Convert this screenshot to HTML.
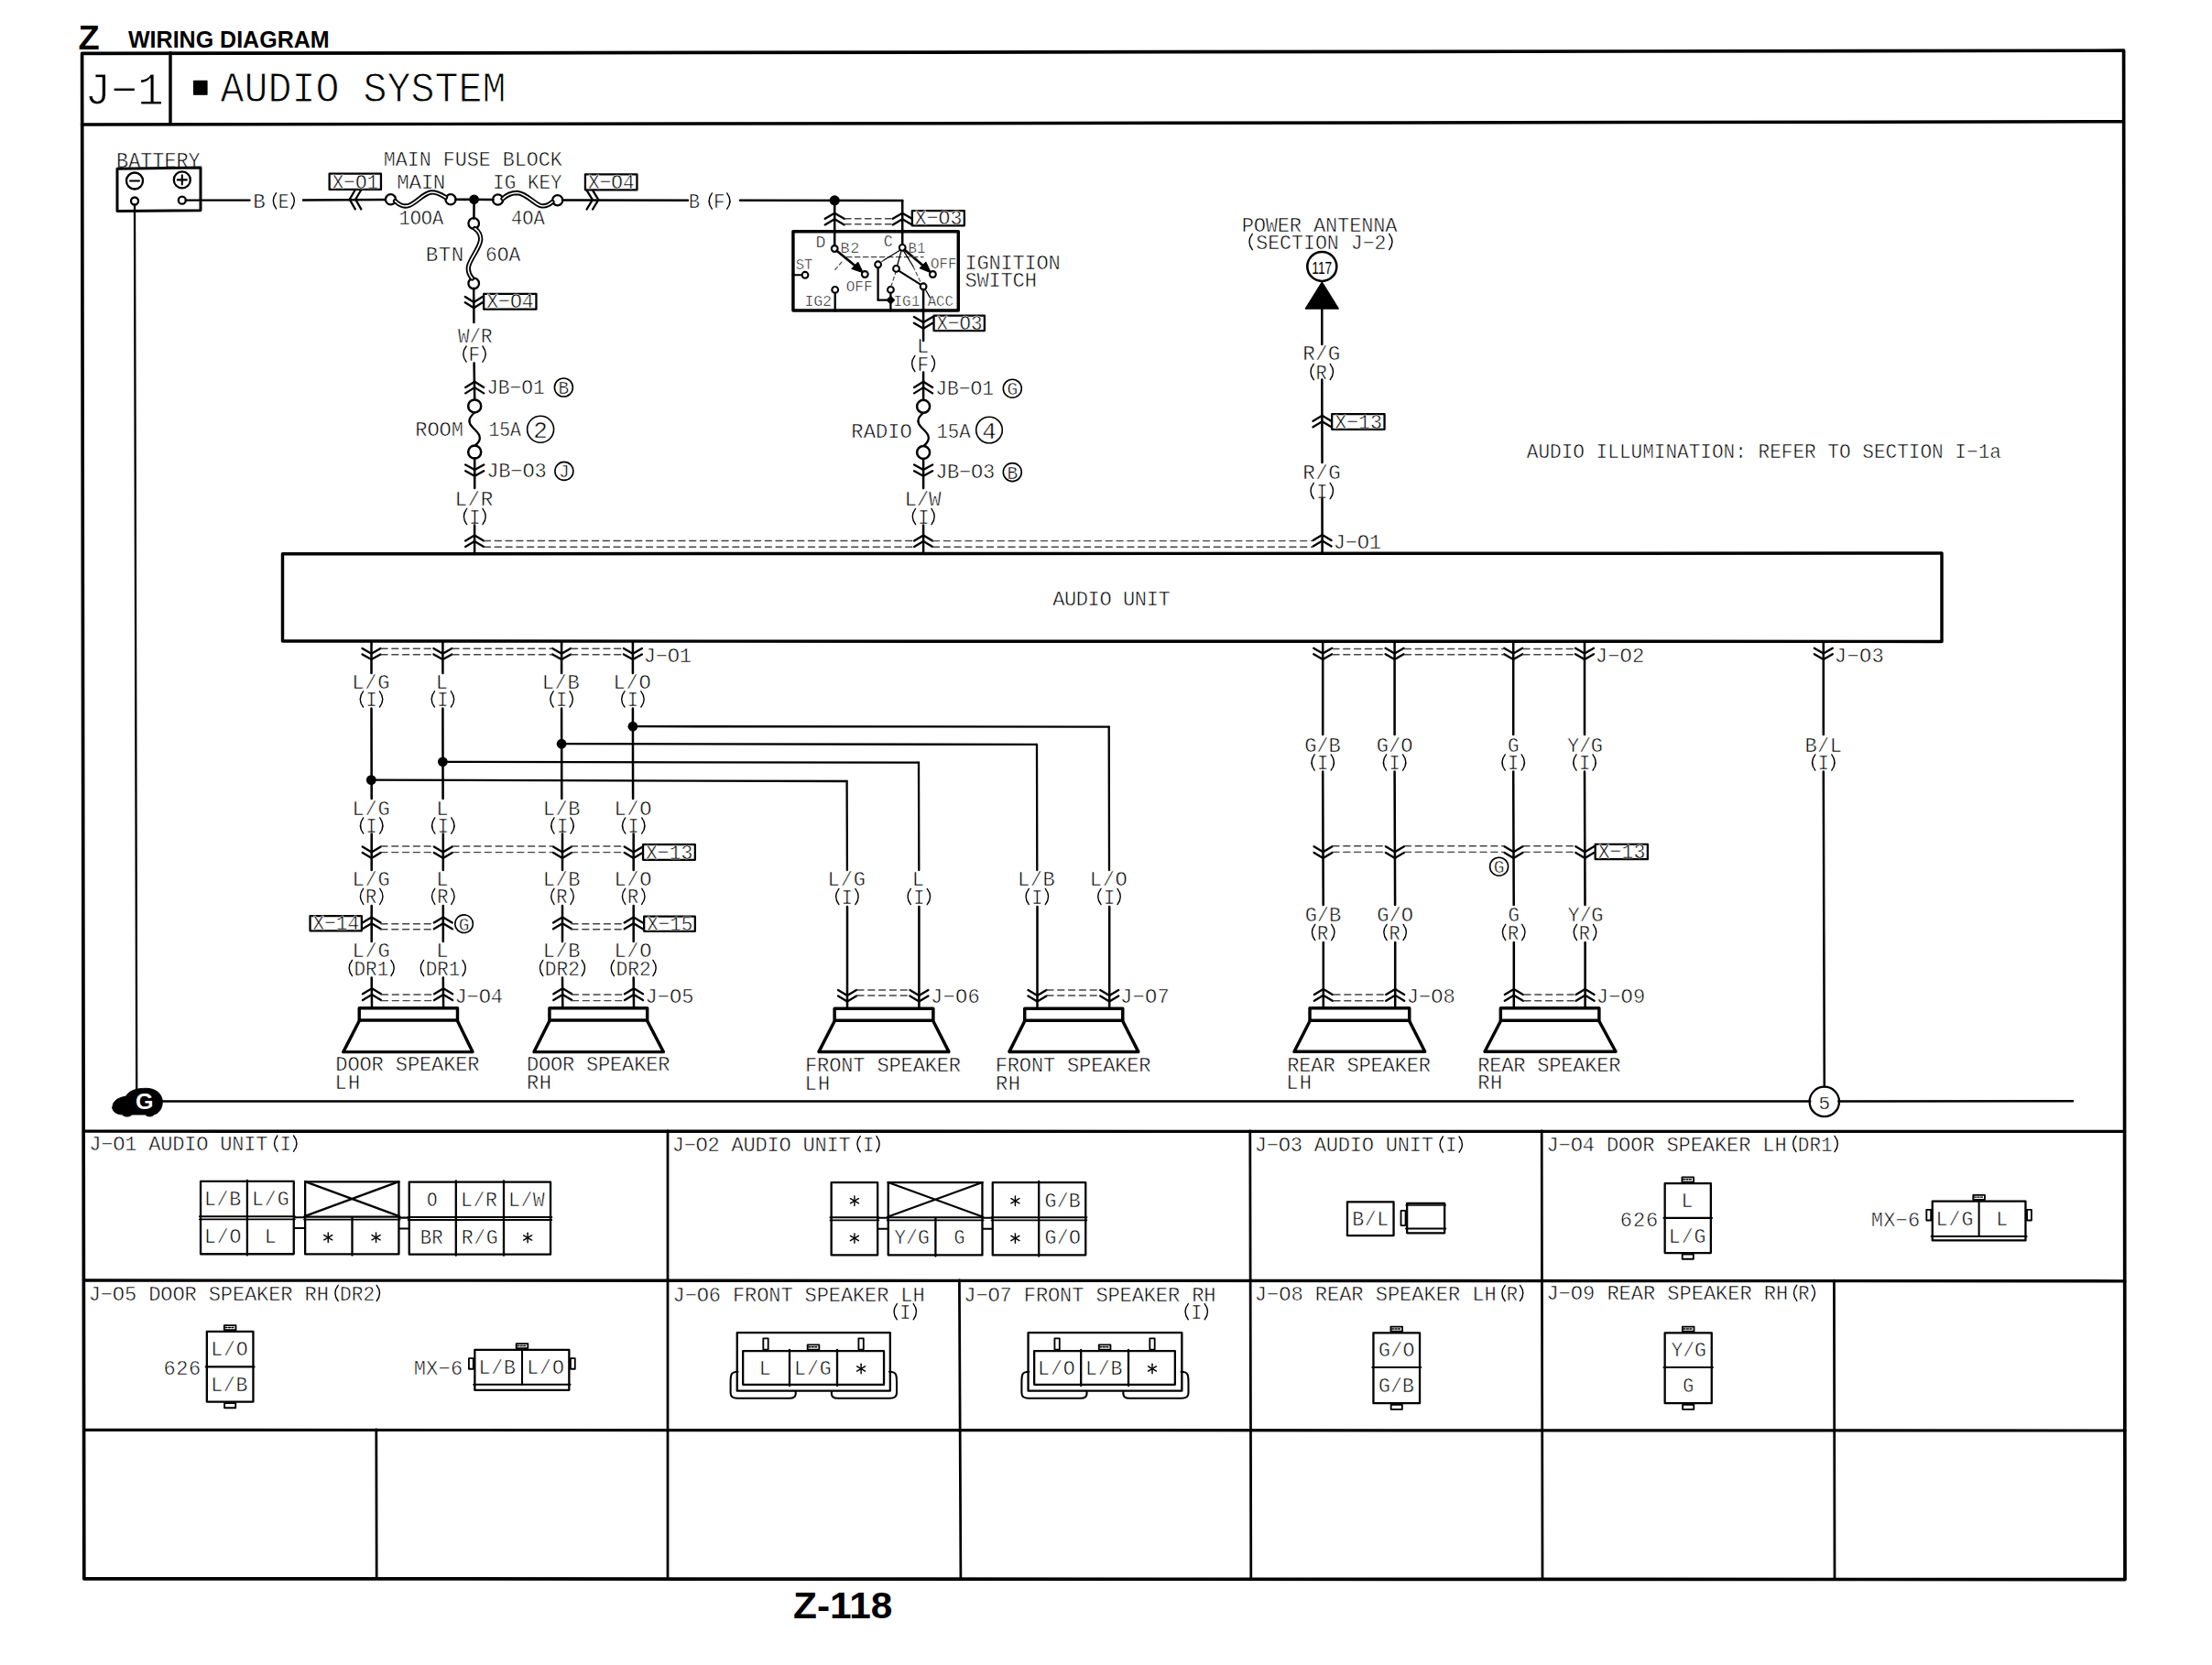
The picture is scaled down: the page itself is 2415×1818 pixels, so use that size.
<!DOCTYPE html>
<html><head><meta charset="utf-8"><style>
html,body{margin:0;padding:0;background:#fff;width:2415px;height:1818px;overflow:hidden}
svg{display:block}
</style></head><body>
<svg width="2415" height="1818" viewBox="0 0 2415 1818">
<rect x="0" y="0" width="2415" height="1818" fill="#fff"/>
<g stroke="#000" fill="none" stroke-linecap="round" stroke-linejoin="round" fill-opacity="1">
<text x="85.49" y="53.5" font-size="36.5" font-family='"Liberation Sans", sans-serif' font-weight="bold" fill="#000" stroke="none" textLength="23.16" lengthAdjust="spacingAndGlyphs">Z</text>
<text x="140" y="52.4" font-size="26.5" font-family='"Liberation Sans", sans-serif' font-weight="bold" fill="#000" stroke="none" textLength="219.64" lengthAdjust="spacingAndGlyphs">WIRING DIAGRAM</text>
<path d="M89.6,58.4 L2318.6,55.2 L2320,1724.6 L91.8,1723.8 Z" stroke-width="3.68" fill="none"/>
<line x1="89.4" y1="136" x2="2318.4" y2="132.8" stroke-width="3.45"/>
<line x1="186" y1="57.5" x2="186" y2="135.5" stroke-width="3.45"/>
<text x="92.39" y="114.1" font-size="49.5" font-family='"Liberation Mono", monospace' fill="#000" stroke="#fff" stroke-width="1.1" textLength="86.45" lengthAdjust="spacingAndGlyphs">J−1</text>
<rect x="211.57" y="88.38" width="14.45" height="14.85" stroke-width="1.15" fill="#000"/>
<text x="240.5" y="110.8" font-size="46.5" font-family='"Liberation Mono", monospace' fill="#000" stroke="#fff" stroke-width="1" textLength="312.03" lengthAdjust="spacingAndGlyphs">AUDIO SYSTEM</text>
<text x="127.07" y="182.5" font-size="23.1" font-family='"Liberation Mono", monospace' fill="#000" stroke="#fff" stroke-width="0.55" textLength="91.59" lengthAdjust="spacingAndGlyphs">BATTERY</text>
<path d="M128,184.2 L219,183 L219,229.8 L128,230.6 Z" stroke-width="2.99" fill="none"/>
<circle cx="147" cy="197.5" r="9" stroke-width="2.3" fill="none"/>
<line x1="142" y1="197.5" x2="152" y2="197.5" stroke-width="2.07"/>
<circle cx="198.8" cy="196.4" r="9" stroke-width="2.3" fill="none"/>
<line x1="193.8" y1="196.4" x2="203.8" y2="196.4" stroke-width="2.07"/>
<line x1="198.8" y1="191.4" x2="198.8" y2="201.4" stroke-width="2.07"/>
<circle cx="147" cy="219.5" r="4" stroke-width="2.3" fill="none"/>
<circle cx="198.8" cy="218.7" r="4" stroke-width="2.3" fill="none"/>
<line x1="147" y1="223.5" x2="149.2" y2="1190" stroke-width="2.3"/>
<line x1="202.8" y1="218.7" x2="272.6" y2="218.7" stroke-width="2.3"/>
<text x="276.31" y="226.8" font-size="22.57" font-family='"Liberation Mono", monospace' fill="#000" stroke="#fff" stroke-width="0.55" textLength="13.29" lengthAdjust="spacing">B</text>
<path d="M301.6,210.7 Q295,219.3 301.6,227.9" stroke-width="1.38" fill="none"/>
<path d="M318.1,210.7 Q324.7,219.3 318.1,227.9" stroke-width="1.38" fill="none"/>
<text x="303.7" y="226.8" font-size="22.05" font-family='"Liberation Mono", monospace' fill="#000" stroke="#fff" stroke-width="0.55" textLength="11.76" lengthAdjust="spacingAndGlyphs">E</text>
<line x1="331" y1="218.5" x2="420.5" y2="217.9" stroke-width="2.53"/>
<path d="M387.8,207.2 L381.7,217.8" stroke-width="2.3" fill="none"/>
<path d="M381.7,217.8 L387.8,228.4" stroke-width="2.3" fill="none"/>
<path d="M394.3,207.2 L388.2,217.8" stroke-width="2.3" fill="none"/>
<path d="M388.2,217.8 L394.3,228.4" stroke-width="2.3" fill="none"/>
<rect x="359.65" y="189.65" width="56.3" height="17.3" stroke-width="2.3" fill="#fff"/>
<text x="362.66" y="205.6" font-size="22.57" font-family='"Liberation Mono", monospace' fill="#000" stroke="#fff" stroke-width="0.55" textLength="50.46" lengthAdjust="spacingAndGlyphs">X−O1</text>
<circle cx="426.5" cy="217.8" r="5.6" stroke-width="2.3" fill="none"/>
<circle cx="492" cy="217.8" r="5.6" stroke-width="2.3" fill="none"/>
<path d="M431.5,219.5 C436,224 441,226 446,224.5 C455,221.5 462,211 470.5,210 C476,209.5 481,212 486.5,215.5" stroke-width="5.29" fill="none"/>
<path d="M431.5,219.5 C436,224 441,226 446,224.5 C455,221.5 462,211 470.5,210 C476,209.5 481,212 486.5,215.5" stroke-width="1.61" fill="none" stroke="#fff"/>
<line x1="497.3" y1="217.8" x2="538.5" y2="218" stroke-width="2.53"/>
<circle cx="517.6" cy="217.8" r="5.4" stroke="none" fill="#000"/>
<circle cx="543.6" cy="218" r="5.6" stroke-width="2.3" fill="none"/>
<circle cx="608.7" cy="218.7" r="5.6" stroke-width="2.3" fill="none"/>
<path d="M549,217 C553,213 558,210.5 564.6,210.5 C574,211 583,222 590,224.5 C595,226 599,224 603,220.5" stroke-width="5.29" fill="none"/>
<path d="M549,217 C553,213 558,210.5 564.6,210.5 C574,211 583,222 590,224.5 C595,226 599,224 603,220.5" stroke-width="1.61" fill="none" stroke="#fff"/>
<line x1="614" y1="218.5" x2="751" y2="218.8" stroke-width="2.53"/>
<path d="M640.6,207.9 L646.9,218.2" stroke-width="2.3" fill="none"/>
<path d="M646.9,218.2 L640.6,228.5" stroke-width="2.3" fill="none"/>
<path d="M647.1,207.9 L653.4,218.2" stroke-width="2.3" fill="none"/>
<path d="M653.4,218.2 L647.1,228.5" stroke-width="2.3" fill="none"/>
<rect x="638.95" y="190.35" width="56.5" height="17" stroke-width="2.3" fill="#fff"/>
<text x="641.96" y="206" font-size="22.57" font-family='"Liberation Mono", monospace' fill="#000" stroke="#fff" stroke-width="0.55" textLength="50.77" lengthAdjust="spacingAndGlyphs">X−O4</text>
<text x="752.11" y="227" font-size="22.57" font-family='"Liberation Mono", monospace' fill="#000" stroke="#fff" stroke-width="0.55" textLength="11.99" lengthAdjust="spacingAndGlyphs">B</text>
<path d="M777.4,210.9 Q770.8,219.5 777.4,228.1" stroke-width="1.38" fill="none"/>
<path d="M793.7,210.9 Q800.3,219.5 793.7,228.1" stroke-width="1.38" fill="none"/>
<text x="779.07" y="227" font-size="22.05" font-family='"Liberation Mono", monospace' fill="#000" stroke="#fff" stroke-width="0.55" textLength="12.53" lengthAdjust="spacingAndGlyphs">F</text>
<line x1="808" y1="218.8" x2="985.2" y2="218.9" stroke-width="2.53"/>
<circle cx="911.2" cy="218.9" r="5.6" stroke="none" fill="#000"/>
<text x="418.65" y="180.5" font-size="22.57" font-family='"Liberation Mono", monospace' fill="#000" stroke="#fff" stroke-width="0.55" textLength="195.18" lengthAdjust="spacingAndGlyphs">MAIN FUSE BLOCK</text>
<text x="433.25" y="205.8" font-size="22.57" font-family='"Liberation Mono", monospace' fill="#000" stroke="#fff" stroke-width="0.55" textLength="53.15" lengthAdjust="spacing">MAIN</text>
<text x="538.06" y="206.1" font-size="22.57" font-family='"Liberation Mono", monospace' fill="#000" stroke="#fff" stroke-width="0.55" textLength="75.69" lengthAdjust="spacingAndGlyphs">IG KEY</text>
<text x="435.42" y="245.2" font-size="22.57" font-family='"Liberation Mono", monospace' fill="#000" stroke="#fff" stroke-width="0.55" textLength="48.89" lengthAdjust="spacingAndGlyphs">1OOA</text>
<text x="558.07" y="245.3" font-size="22.57" font-family='"Liberation Mono", monospace' fill="#000" stroke="#fff" stroke-width="0.55" textLength="36.73" lengthAdjust="spacingAndGlyphs">4OA</text>
<line x1="517.6" y1="217.8" x2="517.4" y2="238.5" stroke-width="2.53"/>
<circle cx="517.2" cy="244" r="5.8" stroke-width="2.3" fill="none"/>
<circle cx="517.2" cy="309.5" r="5.8" stroke-width="2.3" fill="none"/>
<path d="M518.5,249.5 C522,252 525.5,257 524.5,263 C523,272 513,283 511.5,291 C510.5,297 513,301 515.5,304" stroke-width="5.29" fill="none"/>
<path d="M518.5,249.5 C522,252 525.5,257 524.5,263 C523,272 513,283 511.5,291 C510.5,297 513,301 515.5,304" stroke-width="1.61" fill="none" stroke="#fff"/>
<text x="464.81" y="284.7" font-size="22.57" font-family='"Liberation Mono", monospace' fill="#000" stroke="#fff" stroke-width="0.55" textLength="41.39" lengthAdjust="spacing">BTN</text>
<text x="530.02" y="284.7" font-size="22.57" font-family='"Liberation Mono", monospace' fill="#000" stroke="#fff" stroke-width="0.55" textLength="38.19" lengthAdjust="spacingAndGlyphs">6OA</text>
<line x1="517.2" y1="314.8" x2="517.4" y2="352" stroke-width="2.53"/>
<path d="M507.8,324 L517.3,330 L526.8,324" stroke-width="2.3" fill="none"/>
<path d="M507.8,330.3 L517.3,336.3 L526.8,330.3" stroke-width="2.3" fill="none"/>
<rect x="528.15" y="320.95" width="57.3" height="16.7" stroke-width="2.3" fill="#fff"/>
<text x="531.16" y="336.3" font-size="22.57" font-family='"Liberation Mono", monospace' fill="#000" stroke="#fff" stroke-width="0.55" textLength="51.57" lengthAdjust="spacingAndGlyphs">X−O4</text>
<text x="500" y="373.7" font-size="22.57" font-family='"Liberation Mono", monospace' fill="#000" stroke="#fff" stroke-width="0.55" textLength="37.57" lengthAdjust="spacingAndGlyphs">W/R</text>
<path d="M509.1,378 Q502.5,386.6 509.1,395.2" stroke-width="1.38" fill="none"/>
<path d="M526.9,378 Q533.5,386.6 526.9,395.2" stroke-width="1.38" fill="none"/>
<text x="511.52" y="394.1" font-size="22.05" font-family='"Liberation Mono", monospace' fill="#000" stroke="#fff" stroke-width="0.55" textLength="12.53" lengthAdjust="spacingAndGlyphs">F</text>
<line x1="517.6" y1="396.5" x2="518.2" y2="436" stroke-width="2.53"/>
<path d="M508.2,423 L518.2,416.7 L528.2,423" stroke-width="2.3" fill="none"/>
<path d="M508.2,429.4 L518.2,423.1 L528.2,429.4" stroke-width="2.3" fill="none"/>
<text x="531.13" y="430.3" font-size="22.05" font-family='"Liberation Mono", monospace' fill="#000" stroke="#fff" stroke-width="0.55" textLength="63.58" lengthAdjust="spacingAndGlyphs">JB−O1</text>
<circle cx="615.4" cy="423" r="10" stroke-width="1.61" fill="none"/>
<text x="615.4" y="430.02" font-size="19.5" font-family='"Liberation Mono", monospace' text-anchor="middle" stroke="#fff" stroke-width="0.5" fill="#000">B</text>
<circle cx="518.2" cy="443.4" r="7" stroke-width="2.53" fill="none"/>
<circle cx="518.2" cy="493.6" r="7" stroke-width="2.53" fill="none"/>
<path d="M518,450.5 C514,454 511,458 513,462.5 C515,467 522,471 523.5,476 C525,481 522,484 518.5,486.5" stroke-width="2.3" fill="none"/>
<text x="453.35" y="476.1" font-size="22.05" font-family='"Liberation Mono", monospace' fill="#000" stroke="#fff" stroke-width="0.55" textLength="52.58" lengthAdjust="spacing">ROOM</text>
<text x="533.46" y="476.1" font-size="22.05" font-family='"Liberation Mono", monospace' fill="#000" stroke="#fff" stroke-width="0.55" textLength="35.35" lengthAdjust="spacingAndGlyphs">15A</text>
<circle cx="590.1" cy="468.7" r="14.5" stroke-width="1.61" fill="none"/>
<text x="590.1" y="478.06" font-size="26" font-family='"Liberation Mono", monospace' text-anchor="middle" stroke="#fff" stroke-width="0.5" fill="#000">2</text>
<line x1="518.2" y1="500.6" x2="518.2" y2="533" stroke-width="2.53"/>
<path d="M508.2,507.4 L518.2,513 L528.2,507.4" stroke-width="2.3" fill="none"/>
<path d="M508.2,514.2 L518.2,519.8 L528.2,514.2" stroke-width="2.3" fill="none"/>
<text x="531.13" y="521.3" font-size="22.05" font-family='"Liberation Mono", monospace' fill="#000" stroke="#fff" stroke-width="0.55" textLength="65.71" lengthAdjust="spacing">JB−O3</text>
<circle cx="615.9" cy="514.4" r="10" stroke-width="1.61" fill="none"/>
<text x="615.9" y="521.42" font-size="19.5" font-family='"Liberation Mono", monospace' text-anchor="middle" stroke="#fff" stroke-width="0.5" fill="#000">J</text>
<text x="496.4" y="551.5" font-size="22.57" font-family='"Liberation Mono", monospace' fill="#000" stroke="#fff" stroke-width="0.55" textLength="41.97" lengthAdjust="spacing">L/R</text>
<path d="M509.7,555.4 Q503.1,564 509.7,572.6" stroke-width="1.38" fill="none"/>
<path d="M526.9,555.4 Q533.5,564 526.9,572.6" stroke-width="1.38" fill="none"/>
<text x="512.21" y="571.5" font-size="22.05" font-family='"Liberation Mono", monospace' fill="#000" stroke="#fff" stroke-width="0.55" textLength="12.19" lengthAdjust="spacingAndGlyphs">I</text>
<line x1="518.1" y1="573.5" x2="518.1" y2="603.5" stroke-width="2.53"/>
<path d="M508.1,590.5 L518.1,584.5 L528.1,590.5" stroke-width="2.3" fill="none"/>
<path d="M508.1,597 L518.1,591 L528.1,597" stroke-width="2.3" fill="none"/>
<line x1="911.2" y1="218.9" x2="911.2" y2="268" stroke-width="2.53"/>
<line x1="985.2" y1="218.9" x2="985.2" y2="267" stroke-width="2.53"/>
<path d="M900.7,238.8 L911.2,232.7 L921.7,238.8" stroke-width="2.3" fill="none"/>
<path d="M900.7,245.4 L911.2,239.3 L921.7,245.4" stroke-width="2.3" fill="none"/>
<path d="M974.7,238.8 L985.2,232.7 L995.7,238.8" stroke-width="2.3" fill="none"/>
<path d="M974.7,245.4 L985.2,239.3 L995.7,245.4" stroke-width="2.3" fill="none"/>
<line x1="922.5" y1="238.7" x2="974.5" y2="238.7" stroke-width="1.4" stroke="#444" stroke-dasharray="6.5 4.5"/>
<line x1="922.5" y1="244.8" x2="974.5" y2="244.8" stroke-width="1.4" stroke="#444" stroke-dasharray="6.5 4.5"/>
<rect x="995.85" y="230.15" width="57" height="16.2" stroke-width="2.3" fill="#fff"/>
<text x="998.86" y="245" font-size="22.57" font-family='"Liberation Mono", monospace' fill="#000" stroke="#fff" stroke-width="0.55" textLength="51.5" lengthAdjust="spacingAndGlyphs">X−O3</text>
<rect x="865.93" y="252.72" width="180.35" height="86.25" stroke-width="3.45" fill="none"/>
<text x="890.42" y="269.9" font-size="18.38" font-family='"Liberation Mono", monospace' fill="#000" stroke="#fff" stroke-width="0.55" textLength="11.5" lengthAdjust="spacing">D</text>
<text x="964.79" y="269.4" font-size="18.38" font-family='"Liberation Mono", monospace' fill="#000" stroke="#fff" stroke-width="0.55" textLength="9.95" lengthAdjust="spacingAndGlyphs">C</text>
<circle cx="911.2" cy="271.5" r="3.4" stroke-width="2.07" fill="#fff"/>
<circle cx="985.2" cy="270.4" r="3.4" stroke-width="2.07" fill="#fff"/>
<text x="917.54" y="276" font-size="16.8" font-family='"Liberation Mono", monospace' fill="#000" stroke="#fff" stroke-width="0.55" textLength="20.84" lengthAdjust="spacing">B2</text>
<text x="991.54" y="276" font-size="16.8" font-family='"Liberation Mono", monospace' fill="#000" stroke="#fff" stroke-width="0.55" textLength="18.92" lengthAdjust="spacingAndGlyphs">B1</text>
<line x1="913.5" y1="273.8" x2="938.5" y2="294.3" stroke-width="2.76"/>
<path d="M930,293.5 L942.3,297.8 L936.8,286.5 Z" stroke-width="1.15" fill="#000"/>
<circle cx="944.3" cy="299.5" r="3.4" stroke-width="2.07" fill="#fff"/>
<line x1="987.5" y1="272.7" x2="1012.5" y2="294" stroke-width="2.76"/>
<path d="M1004.2,292.8 L1016.3,297.8 L1010.8,286.3 Z" stroke-width="1.15" fill="#000"/>
<circle cx="1018.4" cy="299.5" r="3.4" stroke-width="2.07" fill="#fff"/>
<text x="868.71" y="293.9" font-size="16.8" font-family='"Liberation Mono", monospace' fill="#000" stroke="#fff" stroke-width="0.55" textLength="18.48" lengthAdjust="spacingAndGlyphs">ST</text>
<line x1="865.5" y1="300.3" x2="875.5" y2="300.3" stroke-width="2.07"/>
<circle cx="879" cy="300.3" r="3.4" stroke-width="2.07" fill="#fff"/>
<line x1="924.4" y1="280.7" x2="1008" y2="280.7" stroke-width="1.2" stroke="#444" stroke-dasharray="5.5 3.5"/>
<line x1="911.7" y1="294.4" x2="920.3" y2="284.7" stroke-width="1.2" stroke="#444" stroke-dasharray="4 3"/>
<text x="1016.04" y="292.9" font-size="16.8" font-family='"Liberation Mono", monospace' fill="#000" stroke="#fff" stroke-width="0.55" textLength="28.54" lengthAdjust="spacingAndGlyphs">OFF</text>
<text x="923.64" y="318.4" font-size="16.8" font-family='"Liberation Mono", monospace' fill="#000" stroke="#fff" stroke-width="0.55" textLength="29.04" lengthAdjust="spacingAndGlyphs">OFF</text>
<circle cx="911.7" cy="316.4" r="3.4" stroke-width="2.07" fill="#fff"/>
<line x1="911.7" y1="319.8" x2="911.7" y2="339.5" stroke-width="2.3"/>
<text x="878.4" y="334.2" font-size="16.8" font-family='"Liberation Mono", monospace' fill="#000" stroke="#fff" stroke-width="0.55" textLength="29.78" lengthAdjust="spacing">IG2</text>
<circle cx="958.6" cy="288.8" r="3.4" stroke-width="2.07" fill="#fff"/>
<line x1="958.6" y1="292.2" x2="958.6" y2="327.6" stroke-width="2.3"/>
<line x1="958.6" y1="327.6" x2="972.4" y2="327.6" stroke-width="2.3"/>
<path d="M972.4,323.4 L976.6,327.6 L972.4,331.8 L968.2,327.6 Z" stroke-width="1.15" fill="#000"/>
<circle cx="972.4" cy="316.4" r="3.4" stroke-width="2.07" fill="#fff"/>
<line x1="972.4" y1="319.8" x2="972.4" y2="339.5" stroke-width="2.3"/>
<line x1="972.8" y1="312.8" x2="978" y2="297" stroke-width="1.2" stroke="#444" stroke-dasharray="4 3"/>
<circle cx="978.5" cy="293.4" r="3.4" stroke-width="2.07" fill="#fff"/>
<line x1="981.2" y1="295.6" x2="1005.4" y2="310.8" stroke-width="2.07"/>
<circle cx="1008.1" cy="312.8" r="3.4" stroke-width="2.07" fill="#fff"/>
<line x1="1008.1" y1="316.2" x2="1008.1" y2="372" stroke-width="2.53"/>
<line x1="984" y1="273.8" x2="979.6" y2="290" stroke-width="1.26"/>
<line x1="983" y1="273" x2="965" y2="284" stroke-width="1.26"/>
<line x1="965" y1="284" x2="961" y2="287" stroke-width="1.1" stroke="#444" stroke-dasharray="3 2"/>
<line x1="986.5" y1="273.8" x2="997" y2="291" stroke-width="1.26"/>
<line x1="997" y1="291" x2="1006" y2="310" stroke-width="1.1" stroke="#444" stroke-dasharray="4 3"/>
<line x1="1010" y1="315.5" x2="1015.8" y2="325.6" stroke-width="1.26"/>
<text x="975.4" y="333.7" font-size="16.8" font-family='"Liberation Mono", monospace' fill="#000" stroke="#fff" stroke-width="0.55" textLength="28.86" lengthAdjust="spacingAndGlyphs">IG1</text>
<text x="1012.7" y="333.7" font-size="16.8" font-family='"Liberation Mono", monospace' fill="#000" stroke="#fff" stroke-width="0.55" textLength="28.28" lengthAdjust="spacingAndGlyphs">ACC</text>
<path d="M997.9,346 L1008.1,352.1 L1018.3,346" stroke-width="2.3" fill="none"/>
<path d="M997.9,352.7 L1008.1,358.8 L1018.3,352.7" stroke-width="2.3" fill="none"/>
<rect x="1019.55" y="344.55" width="55.3" height="16.5" stroke-width="2.3" fill="#fff"/>
<text x="1022.56" y="359.7" font-size="22.57" font-family='"Liberation Mono", monospace' fill="#000" stroke="#fff" stroke-width="0.55" textLength="49.8" lengthAdjust="spacingAndGlyphs">X−O3</text>
<text x="1053.51" y="293.7" font-size="22.05" font-family='"Liberation Mono", monospace' fill="#000" stroke="#fff" stroke-width="0.55" textLength="104.16" lengthAdjust="spacing">IGNITION</text>
<text x="1053.53" y="313.1" font-size="22.05" font-family='"Liberation Mono", monospace' fill="#000" stroke="#fff" stroke-width="0.55" textLength="78.34" lengthAdjust="spacing">SWITCH</text>
<text x="1000.96" y="384.8" font-size="22.05" font-family='"Liberation Mono", monospace' fill="#000" stroke="#fff" stroke-width="0.55" textLength="12.86" lengthAdjust="spacing">L</text>
<path d="M998.9,388.4 Q992.3,397 998.9,405.6" stroke-width="1.38" fill="none"/>
<path d="M1017.2,388.4 Q1023.8,397 1017.2,405.6" stroke-width="1.38" fill="none"/>
<text x="1001.57" y="404.5" font-size="22.05" font-family='"Liberation Mono", monospace' fill="#000" stroke="#fff" stroke-width="0.55" textLength="12.53" lengthAdjust="spacingAndGlyphs">F</text>
<line x1="1008.1" y1="406.5" x2="1008.1" y2="436" stroke-width="2.53"/>
<path d="M998.1,423 L1008.1,416.7 L1018.1,423" stroke-width="2.3" fill="none"/>
<path d="M998.1,429.4 L1008.1,423.1 L1018.1,429.4" stroke-width="2.3" fill="none"/>
<text x="1021.13" y="430.5" font-size="22.05" font-family='"Liberation Mono", monospace' fill="#000" stroke="#fff" stroke-width="0.55" textLength="63.88" lengthAdjust="spacingAndGlyphs">JB−O1</text>
<circle cx="1105.3" cy="424.2" r="10" stroke-width="1.61" fill="none"/>
<text x="1105.3" y="431.22" font-size="19.5" font-family='"Liberation Mono", monospace' text-anchor="middle" stroke="#fff" stroke-width="0.5" fill="#000">G</text>
<circle cx="1008.1" cy="443.8" r="7" stroke-width="2.53" fill="none"/>
<circle cx="1008.1" cy="494" r="7" stroke-width="2.53" fill="none"/>
<path d="M1008,450.9 C1004,454 1001,458 1003,462.5 C1005,467 1012,471 1013.5,476 C1015,481 1012,484 1008.5,487" stroke-width="2.3" fill="none"/>
<text x="929.35" y="478.2" font-size="22.05" font-family='"Liberation Mono", monospace' fill="#000" stroke="#fff" stroke-width="0.55" textLength="66.36" lengthAdjust="spacing">RADIO</text>
<text x="1022.46" y="478.2" font-size="22.05" font-family='"Liberation Mono", monospace' fill="#000" stroke="#fff" stroke-width="0.55" textLength="37.25" lengthAdjust="spacingAndGlyphs">15A</text>
<circle cx="1080" cy="469.5" r="14.3" stroke-width="1.61" fill="none"/>
<text x="1080" y="478.86" font-size="26" font-family='"Liberation Mono", monospace' text-anchor="middle" stroke="#fff" stroke-width="0.5" fill="#000">4</text>
<line x1="1008.1" y1="501" x2="1008.1" y2="533" stroke-width="2.53"/>
<path d="M998.1,507.4 L1008.1,513 L1018.1,507.4" stroke-width="2.3" fill="none"/>
<path d="M998.1,514.2 L1008.1,519.8 L1018.1,514.2" stroke-width="2.3" fill="none"/>
<text x="1021.13" y="521.5" font-size="22.05" font-family='"Liberation Mono", monospace' fill="#000" stroke="#fff" stroke-width="0.55" textLength="65.21" lengthAdjust="spacing">JB−O3</text>
<circle cx="1105.3" cy="515.6" r="10" stroke-width="1.61" fill="none"/>
<text x="1105.3" y="522.62" font-size="19.5" font-family='"Liberation Mono", monospace' text-anchor="middle" stroke="#fff" stroke-width="0.5" fill="#000">B</text>
<text x="987.4" y="551.5" font-size="22.57" font-family='"Liberation Mono", monospace' fill="#000" stroke="#fff" stroke-width="0.55" textLength="40.1" lengthAdjust="spacing">L/W</text>
<path d="M999.6,555.4 Q993,564 999.6,572.6" stroke-width="1.38" fill="none"/>
<path d="M1016.9,555.4 Q1023.5,564 1016.9,572.6" stroke-width="1.38" fill="none"/>
<text x="1002.16" y="571.5" font-size="22.05" font-family='"Liberation Mono", monospace' fill="#000" stroke="#fff" stroke-width="0.55" textLength="12.19" lengthAdjust="spacingAndGlyphs">I</text>
<line x1="1008.1" y1="573.5" x2="1008.1" y2="603.5" stroke-width="2.53"/>
<path d="M998.1,590.5 L1008.1,584.5 L1018.1,590.5" stroke-width="2.3" fill="none"/>
<path d="M998.1,597 L1008.1,591 L1018.1,597" stroke-width="2.3" fill="none"/>
<text x="1355.65" y="253.4" font-size="22.05" font-family='"Liberation Mono", monospace' fill="#000" stroke="#fff" stroke-width="0.55" textLength="169.88" lengthAdjust="spacing">POWER ANTENNA</text>
<path d="M1367.3,255.4 Q1360.7,264 1367.3,272.6" stroke-width="1.38" fill="none"/>
<path d="M1516.7,255.4 Q1523.3,264 1516.7,272.6" stroke-width="1.38" fill="none"/>
<text x="1371.23" y="271.5" font-size="22.05" font-family='"Liberation Mono", monospace' fill="#000" stroke="#fff" stroke-width="0.55" textLength="142.33" lengthAdjust="spacingAndGlyphs">SECTION J−2</text>
<circle cx="1443.3" cy="290.9" r="16" stroke-width="2.53" fill="none"/>
<text x="1443.3" y="298.5" font-size="19" font-family='"Liberation Sans", sans-serif' text-anchor="middle" fill="#000" stroke="none" textLength="22" lengthAdjust="spacingAndGlyphs">117</text>
<path d="M1443.3,308.5 L1461,337 L1425.6,337 Z" stroke-width="1.72" fill="#000"/>
<line x1="1443.3" y1="337" x2="1443.3" y2="376" stroke-width="2.53"/>
<text x="1422.31" y="393.1" font-size="22.57" font-family='"Liberation Mono", monospace' fill="#000" stroke="#fff" stroke-width="0.55" textLength="41.05" lengthAdjust="spacing">R/G</text>
<path d="M1434.3,397.4 Q1427.7,406 1434.3,414.6" stroke-width="1.38" fill="none"/>
<path d="M1452.2,397.4 Q1458.8,406 1452.2,414.6" stroke-width="1.38" fill="none"/>
<text x="1436.6" y="413.5" font-size="22.05" font-family='"Liberation Mono", monospace' fill="#000" stroke="#fff" stroke-width="0.55" textLength="12.21" lengthAdjust="spacingAndGlyphs">R</text>
<line x1="1443.3" y1="414.5" x2="1443.5" y2="505" stroke-width="2.53"/>
<path d="M1433.5,459.8 L1443.5,453.8 L1453.5,459.8" stroke-width="2.3" fill="none"/>
<path d="M1433.5,466.3 L1443.5,460.3 L1453.5,466.3" stroke-width="2.3" fill="none"/>
<rect x="1454.15" y="452.15" width="57.4" height="16.7" stroke-width="2.3" fill="#fff"/>
<text x="1457.16" y="467.5" font-size="22.57" font-family='"Liberation Mono", monospace' fill="#000" stroke="#fff" stroke-width="0.55" textLength="51.9" lengthAdjust="spacingAndGlyphs">X−13</text>
<text x="1422.31" y="523.2" font-size="22.57" font-family='"Liberation Mono", monospace' fill="#000" stroke="#fff" stroke-width="0.55" textLength="41.55" lengthAdjust="spacing">R/G</text>
<path d="M1434.3,527.4 Q1427.7,536 1434.3,544.6" stroke-width="1.38" fill="none"/>
<path d="M1452.2,527.4 Q1458.8,536 1452.2,544.6" stroke-width="1.38" fill="none"/>
<text x="1437.16" y="543.5" font-size="22.05" font-family='"Liberation Mono", monospace' fill="#000" stroke="#fff" stroke-width="0.55" textLength="12.19" lengthAdjust="spacingAndGlyphs">I</text>
<line x1="1443.5" y1="544.5" x2="1443.6" y2="603.5" stroke-width="2.53"/>
<path d="M1433.6,590 L1443.6,584 L1453.6,590" stroke-width="2.3" fill="none"/>
<path d="M1433.6,596.5 L1443.6,590.5 L1453.6,596.5" stroke-width="2.3" fill="none"/>
<text x="1455.73" y="598.8" font-size="22.05" font-family='"Liberation Mono", monospace' fill="#000" stroke="#fff" stroke-width="0.55" textLength="52.27" lengthAdjust="spacing">J−O1</text>
<line x1="528.5" y1="590.5" x2="997.5" y2="590.5" stroke-width="1.4" stroke="#444" stroke-dasharray="7 4.8"/>
<line x1="528.5" y1="597.3" x2="997.5" y2="597.3" stroke-width="1.4" stroke="#444" stroke-dasharray="7 4.8"/>
<line x1="1018.5" y1="590.6" x2="1433" y2="590.6" stroke-width="1.4" stroke="#444" stroke-dasharray="7 4.8"/>
<line x1="1018.5" y1="597.3" x2="1433" y2="597.3" stroke-width="1.4" stroke="#444" stroke-dasharray="7 4.8"/>
<text x="1666.8" y="500.2" font-size="22.05" font-family='"Liberation Mono", monospace' fill="#000" stroke="#fff" stroke-width="0.55" textLength="518.12" lengthAdjust="spacingAndGlyphs">AUDIO ILLUMINATION: REFER TO SECTION I−1a</text>
<path d="M308.5,604.8 L2120,604 L2120,700.4 L308.5,700 Z" stroke-width="3.45" fill="none"/>
<text x="1149.2" y="660.6" font-size="22.05" font-family='"Liberation Mono", monospace' fill="#000" stroke="#fff" stroke-width="0.55" textLength="128.49" lengthAdjust="spacing">AUDIO UNIT</text>
<line x1="405.5" y1="701" x2="405.5" y2="735" stroke-width="2.53"/>
<path d="M395.5,708 L405.5,713.7 L415.5,708" stroke-width="2.3" fill="none"/>
<path d="M395.5,714.4 L405.5,720.1 L415.5,714.4" stroke-width="2.3" fill="none"/>
<line x1="483.4" y1="701" x2="483.4" y2="735" stroke-width="2.53"/>
<path d="M473.4,708 L483.4,713.7 L493.4,708" stroke-width="2.3" fill="none"/>
<path d="M473.4,714.4 L483.4,720.1 L493.4,714.4" stroke-width="2.3" fill="none"/>
<line x1="613.1" y1="701" x2="613.1" y2="735" stroke-width="2.53"/>
<path d="M603.1,708 L613.1,713.7 L623.1,708" stroke-width="2.3" fill="none"/>
<path d="M603.1,714.4 L613.1,720.1 L623.1,714.4" stroke-width="2.3" fill="none"/>
<line x1="690.9" y1="701" x2="690.9" y2="735" stroke-width="2.53"/>
<path d="M680.9,708 L690.9,713.7 L700.9,708" stroke-width="2.3" fill="none"/>
<path d="M680.9,714.4 L690.9,720.1 L700.9,714.4" stroke-width="2.3" fill="none"/>
<line x1="416" y1="708.3" x2="472.5" y2="708.3" stroke-width="1.4" stroke="#444" stroke-dasharray="7 4.8"/>
<line x1="416" y1="714.8" x2="472.5" y2="714.8" stroke-width="1.4" stroke="#444" stroke-dasharray="7 4.8"/>
<line x1="494" y1="708.3" x2="602.5" y2="708.3" stroke-width="1.4" stroke="#444" stroke-dasharray="7 4.8"/>
<line x1="494" y1="714.8" x2="602.5" y2="714.8" stroke-width="1.4" stroke="#444" stroke-dasharray="7 4.8"/>
<line x1="623.5" y1="708.3" x2="680.5" y2="708.3" stroke-width="1.4" stroke="#444" stroke-dasharray="7 4.8"/>
<line x1="623.5" y1="714.8" x2="680.5" y2="714.8" stroke-width="1.4" stroke="#444" stroke-dasharray="7 4.8"/>
<text x="702.63" y="723.2" font-size="22.05" font-family='"Liberation Mono", monospace' fill="#000" stroke="#fff" stroke-width="0.55" textLength="52.37" lengthAdjust="spacing">J−O1</text>
<text x="384.21" y="751.5" font-size="22.05" font-family='"Liberation Mono", monospace' fill="#000" stroke="#fff" stroke-width="0.55" textLength="41.36" lengthAdjust="spacing">L/G</text>
<path d="M396.55,754.8 Q389.95,763.4 396.55,772" stroke-width="1.38" fill="none"/>
<path d="M414.45,754.8 Q421.05,763.4 414.45,772" stroke-width="1.38" fill="none"/>
<text x="399.41" y="770.9" font-size="22.05" font-family='"Liberation Mono", monospace' fill="#000" stroke="#fff" stroke-width="0.55" textLength="12.19" lengthAdjust="spacingAndGlyphs">I</text>
<text x="475.86" y="751.5" font-size="22.05" font-family='"Liberation Mono", monospace' fill="#000" stroke="#fff" stroke-width="0.55" textLength="13.86" lengthAdjust="spacing">L</text>
<path d="M474.45,754.8 Q467.85,763.4 474.45,772" stroke-width="1.38" fill="none"/>
<path d="M492.35,754.8 Q498.95,763.4 492.35,772" stroke-width="1.38" fill="none"/>
<text x="477.31" y="770.9" font-size="22.05" font-family='"Liberation Mono", monospace' fill="#000" stroke="#fff" stroke-width="0.55" textLength="12.19" lengthAdjust="spacingAndGlyphs">I</text>
<text x="591.81" y="751.5" font-size="22.05" font-family='"Liberation Mono", monospace' fill="#000" stroke="#fff" stroke-width="0.55" textLength="40.81" lengthAdjust="spacing">L/B</text>
<path d="M604.15,754.8 Q597.55,763.4 604.15,772" stroke-width="1.38" fill="none"/>
<path d="M622.05,754.8 Q628.65,763.4 622.05,772" stroke-width="1.38" fill="none"/>
<text x="607.01" y="770.9" font-size="22.05" font-family='"Liberation Mono", monospace' fill="#000" stroke="#fff" stroke-width="0.55" textLength="12.19" lengthAdjust="spacingAndGlyphs">I</text>
<text x="669.61" y="751.5" font-size="22.05" font-family='"Liberation Mono", monospace' fill="#000" stroke="#fff" stroke-width="0.55" textLength="41.14" lengthAdjust="spacing">L/O</text>
<path d="M681.95,754.8 Q675.35,763.4 681.95,772" stroke-width="1.38" fill="none"/>
<path d="M699.85,754.8 Q706.45,763.4 699.85,772" stroke-width="1.38" fill="none"/>
<text x="684.81" y="770.9" font-size="22.05" font-family='"Liberation Mono", monospace' fill="#000" stroke="#fff" stroke-width="0.55" textLength="12.19" lengthAdjust="spacingAndGlyphs">I</text>
<line x1="405.5" y1="773.5" x2="405.7" y2="872" stroke-width="2.53"/>
<line x1="483.4" y1="773.5" x2="483.6" y2="872" stroke-width="2.53"/>
<line x1="613.1" y1="773.5" x2="613.3" y2="872" stroke-width="2.53"/>
<line x1="690.9" y1="773.5" x2="691.1" y2="872" stroke-width="2.53"/>
<circle cx="690.9" cy="793.2" r="5.4" stroke="none" fill="#000"/>
<line x1="690.9" y1="793.2" x2="1210.7" y2="793.6" stroke-width="2.3"/>
<line x1="1210.7" y1="793.6" x2="1211" y2="950" stroke-width="2.3"/>
<circle cx="613.1" cy="812.2" r="5.4" stroke="none" fill="#000"/>
<line x1="613.1" y1="812.2" x2="1132" y2="812.9" stroke-width="2.3"/>
<line x1="1132" y1="812.9" x2="1132.3" y2="950" stroke-width="2.3"/>
<circle cx="483.4" cy="831.8" r="5.4" stroke="none" fill="#000"/>
<line x1="483.4" y1="831.8" x2="1003" y2="832.7" stroke-width="2.3"/>
<line x1="1003" y1="832.7" x2="1003.3" y2="950" stroke-width="2.3"/>
<circle cx="405.3" cy="851.6" r="5.4" stroke="none" fill="#000"/>
<line x1="405.3" y1="851.6" x2="924.6" y2="853" stroke-width="2.3"/>
<line x1="924.6" y1="853" x2="924.9" y2="950" stroke-width="2.3"/>
<text x="384.41" y="889.6" font-size="22.05" font-family='"Liberation Mono", monospace' fill="#000" stroke="#fff" stroke-width="0.55" textLength="41.36" lengthAdjust="spacing">L/G</text>
<path d="M396.75,892.9 Q390.15,901.5 396.75,910.1" stroke-width="1.38" fill="none"/>
<path d="M414.65,892.9 Q421.25,901.5 414.65,910.1" stroke-width="1.38" fill="none"/>
<text x="399.61" y="909" font-size="22.05" font-family='"Liberation Mono", monospace' fill="#000" stroke="#fff" stroke-width="0.55" textLength="12.19" lengthAdjust="spacingAndGlyphs">I</text>
<text x="476.26" y="889.6" font-size="22.05" font-family='"Liberation Mono", monospace' fill="#000" stroke="#fff" stroke-width="0.55" textLength="13.86" lengthAdjust="spacing">L</text>
<path d="M474.85,892.9 Q468.25,901.5 474.85,910.1" stroke-width="1.38" fill="none"/>
<path d="M492.75,892.9 Q499.35,901.5 492.75,910.1" stroke-width="1.38" fill="none"/>
<text x="477.71" y="909" font-size="22.05" font-family='"Liberation Mono", monospace' fill="#000" stroke="#fff" stroke-width="0.55" textLength="12.19" lengthAdjust="spacingAndGlyphs">I</text>
<text x="592.71" y="889.6" font-size="22.05" font-family='"Liberation Mono", monospace' fill="#000" stroke="#fff" stroke-width="0.55" textLength="40.81" lengthAdjust="spacing">L/B</text>
<path d="M605.05,892.9 Q598.45,901.5 605.05,910.1" stroke-width="1.38" fill="none"/>
<path d="M622.95,892.9 Q629.55,901.5 622.95,910.1" stroke-width="1.38" fill="none"/>
<text x="607.91" y="909" font-size="22.05" font-family='"Liberation Mono", monospace' fill="#000" stroke="#fff" stroke-width="0.55" textLength="12.19" lengthAdjust="spacingAndGlyphs">I</text>
<text x="670.41" y="889.6" font-size="22.05" font-family='"Liberation Mono", monospace' fill="#000" stroke="#fff" stroke-width="0.55" textLength="41.14" lengthAdjust="spacing">L/O</text>
<path d="M682.75,892.9 Q676.15,901.5 682.75,910.1" stroke-width="1.38" fill="none"/>
<path d="M700.65,892.9 Q707.25,901.5 700.65,910.1" stroke-width="1.38" fill="none"/>
<text x="685.61" y="909" font-size="22.05" font-family='"Liberation Mono", monospace' fill="#000" stroke="#fff" stroke-width="0.55" textLength="12.19" lengthAdjust="spacingAndGlyphs">I</text>
<line x1="405.7" y1="910.5" x2="405.7" y2="950" stroke-width="2.53"/>
<path d="M395.7,924.4 L405.7,930.4 L415.7,924.4" stroke-width="2.3" fill="none"/>
<path d="M395.7,931 L405.7,937 L415.7,931" stroke-width="2.3" fill="none"/>
<line x1="483.8" y1="910.5" x2="483.8" y2="950" stroke-width="2.53"/>
<path d="M473.8,924.4 L483.8,930.4 L493.8,924.4" stroke-width="2.3" fill="none"/>
<path d="M473.8,931 L483.8,937 L493.8,931" stroke-width="2.3" fill="none"/>
<line x1="614" y1="910.5" x2="614" y2="950" stroke-width="2.53"/>
<path d="M604,924.4 L614,930.4 L624,924.4" stroke-width="2.3" fill="none"/>
<path d="M604,931 L614,937 L624,931" stroke-width="2.3" fill="none"/>
<line x1="691.7" y1="910.5" x2="691.7" y2="950" stroke-width="2.53"/>
<path d="M681.7,924.4 L691.7,930.4 L701.7,924.4" stroke-width="2.3" fill="none"/>
<path d="M681.7,931 L691.7,937 L701.7,931" stroke-width="2.3" fill="none"/>
<line x1="416" y1="924" x2="472.5" y2="924" stroke-width="1.4" stroke="#444" stroke-dasharray="7 4.8"/>
<line x1="416" y1="930.6" x2="472.5" y2="930.6" stroke-width="1.4" stroke="#444" stroke-dasharray="7 4.8"/>
<line x1="494" y1="924" x2="602.5" y2="924" stroke-width="1.4" stroke="#444" stroke-dasharray="7 4.8"/>
<line x1="494" y1="930.6" x2="602.5" y2="930.6" stroke-width="1.4" stroke="#444" stroke-dasharray="7 4.8"/>
<line x1="623.5" y1="924" x2="680.5" y2="924" stroke-width="1.4" stroke="#444" stroke-dasharray="7 4.8"/>
<line x1="623.5" y1="930.6" x2="680.5" y2="930.6" stroke-width="1.4" stroke="#444" stroke-dasharray="7 4.8"/>
<rect x="702.05" y="922.15" width="56.8" height="16.7" stroke-width="2.3" fill="#fff"/>
<text x="705.06" y="937.5" font-size="22.57" font-family='"Liberation Mono", monospace' fill="#000" stroke="#fff" stroke-width="0.55" textLength="51.3" lengthAdjust="spacingAndGlyphs">X−13</text>
<text x="384.41" y="966.9" font-size="22.05" font-family='"Liberation Mono", monospace' fill="#000" stroke="#fff" stroke-width="0.55" textLength="41.36" lengthAdjust="spacing">L/G</text>
<path d="M396.75,970.2 Q390.15,978.8 396.75,987.4" stroke-width="1.38" fill="none"/>
<path d="M414.65,970.2 Q421.25,978.8 414.65,987.4" stroke-width="1.38" fill="none"/>
<text x="399.05" y="986.3" font-size="22.05" font-family='"Liberation Mono", monospace' fill="#000" stroke="#fff" stroke-width="0.55" textLength="12.21" lengthAdjust="spacingAndGlyphs">R</text>
<text x="476.26" y="966.9" font-size="22.05" font-family='"Liberation Mono", monospace' fill="#000" stroke="#fff" stroke-width="0.55" textLength="13.86" lengthAdjust="spacing">L</text>
<path d="M474.85,970.2 Q468.25,978.8 474.85,987.4" stroke-width="1.38" fill="none"/>
<path d="M492.75,970.2 Q499.35,978.8 492.75,987.4" stroke-width="1.38" fill="none"/>
<text x="477.15" y="986.3" font-size="22.05" font-family='"Liberation Mono", monospace' fill="#000" stroke="#fff" stroke-width="0.55" textLength="12.21" lengthAdjust="spacingAndGlyphs">R</text>
<text x="592.71" y="966.9" font-size="22.05" font-family='"Liberation Mono", monospace' fill="#000" stroke="#fff" stroke-width="0.55" textLength="40.81" lengthAdjust="spacing">L/B</text>
<path d="M605.05,970.2 Q598.45,978.8 605.05,987.4" stroke-width="1.38" fill="none"/>
<path d="M622.95,970.2 Q629.55,978.8 622.95,987.4" stroke-width="1.38" fill="none"/>
<text x="607.35" y="986.3" font-size="22.05" font-family='"Liberation Mono", monospace' fill="#000" stroke="#fff" stroke-width="0.55" textLength="12.21" lengthAdjust="spacingAndGlyphs">R</text>
<text x="670.41" y="966.9" font-size="22.05" font-family='"Liberation Mono", monospace' fill="#000" stroke="#fff" stroke-width="0.55" textLength="41.14" lengthAdjust="spacing">L/O</text>
<path d="M682.75,970.2 Q676.15,978.8 682.75,987.4" stroke-width="1.38" fill="none"/>
<path d="M700.65,970.2 Q707.25,978.8 700.65,987.4" stroke-width="1.38" fill="none"/>
<text x="685.05" y="986.3" font-size="22.05" font-family='"Liberation Mono", monospace' fill="#000" stroke="#fff" stroke-width="0.55" textLength="12.21" lengthAdjust="spacingAndGlyphs">R</text>
<line x1="405.7" y1="989" x2="405.7" y2="1028" stroke-width="2.53"/>
<path d="M395.7,1007.5 L405.7,1001.5 L415.7,1007.5" stroke-width="2.3" fill="none"/>
<path d="M395.7,1014.3 L405.7,1008.3 L415.7,1014.3" stroke-width="2.3" fill="none"/>
<line x1="483.8" y1="989" x2="483.8" y2="1028" stroke-width="2.53"/>
<path d="M473.8,1007.5 L483.8,1001.5 L493.8,1007.5" stroke-width="2.3" fill="none"/>
<path d="M473.8,1014.3 L483.8,1008.3 L493.8,1014.3" stroke-width="2.3" fill="none"/>
<line x1="614" y1="989" x2="614" y2="1028" stroke-width="2.53"/>
<path d="M604,1007.5 L614,1001.5 L624,1007.5" stroke-width="2.3" fill="none"/>
<path d="M604,1014.3 L614,1008.3 L624,1014.3" stroke-width="2.3" fill="none"/>
<line x1="691.7" y1="989" x2="691.7" y2="1028" stroke-width="2.53"/>
<path d="M681.7,1007.5 L691.7,1001.5 L701.7,1007.5" stroke-width="2.3" fill="none"/>
<path d="M681.7,1014.3 L691.7,1008.3 L701.7,1014.3" stroke-width="2.3" fill="none"/>
<line x1="416" y1="1008.7" x2="472.5" y2="1008.7" stroke-width="1.4" stroke="#444" stroke-dasharray="7 4.8"/>
<line x1="416" y1="1014.8" x2="472.5" y2="1014.8" stroke-width="1.4" stroke="#444" stroke-dasharray="7 4.8"/>
<line x1="624" y1="1008.7" x2="680.5" y2="1008.7" stroke-width="1.4" stroke="#444" stroke-dasharray="7 4.8"/>
<line x1="624" y1="1014.8" x2="680.5" y2="1014.8" stroke-width="1.4" stroke="#444" stroke-dasharray="7 4.8"/>
<rect x="338.55" y="1000.15" width="56.3" height="16.2" stroke-width="2.3" fill="#fff"/>
<text x="341.56" y="1015" font-size="22.57" font-family='"Liberation Mono", monospace' fill="#000" stroke="#fff" stroke-width="0.55" textLength="50.57" lengthAdjust="spacingAndGlyphs">X−14</text>
<circle cx="506.6" cy="1008.7" r="9.8" stroke-width="1.61" fill="none"/>
<text x="506.6" y="1015.72" font-size="19.5" font-family='"Liberation Mono", monospace' text-anchor="middle" stroke="#fff" stroke-width="0.5" fill="#000">G</text>
<rect x="703.15" y="1000.65" width="55.7" height="16.2" stroke-width="2.3" fill="#fff"/>
<text x="706.16" y="1015.5" font-size="22.57" font-family='"Liberation Mono", monospace' fill="#000" stroke="#fff" stroke-width="0.55" textLength="50.2" lengthAdjust="spacingAndGlyphs">X−15</text>
<text x="384.41" y="1045.1" font-size="22.05" font-family='"Liberation Mono", monospace' fill="#000" stroke="#fff" stroke-width="0.55" textLength="41.36" lengthAdjust="spacing">L/G</text>
<path d="M384.5,1048.4 Q377.9,1057 384.5,1065.6" stroke-width="1.38" fill="none"/>
<path d="M426.9,1048.4 Q433.5,1057 426.9,1065.6" stroke-width="1.38" fill="none"/>
<text x="386.55" y="1064.5" font-size="22.05" font-family='"Liberation Mono", monospace' fill="#000" stroke="#fff" stroke-width="0.55" textLength="37.65" lengthAdjust="spacingAndGlyphs">DR1</text>
<text x="476.26" y="1045.1" font-size="22.05" font-family='"Liberation Mono", monospace' fill="#000" stroke="#fff" stroke-width="0.55" textLength="13.86" lengthAdjust="spacing">L</text>
<path d="M462.6,1048.4 Q456,1057 462.6,1065.6" stroke-width="1.38" fill="none"/>
<path d="M505,1048.4 Q511.6,1057 505,1065.6" stroke-width="1.38" fill="none"/>
<text x="464.65" y="1064.5" font-size="22.05" font-family='"Liberation Mono", monospace' fill="#000" stroke="#fff" stroke-width="0.55" textLength="37.65" lengthAdjust="spacingAndGlyphs">DR1</text>
<text x="592.71" y="1045.1" font-size="22.05" font-family='"Liberation Mono", monospace' fill="#000" stroke="#fff" stroke-width="0.55" textLength="40.81" lengthAdjust="spacing">L/B</text>
<path d="M592.8,1048.4 Q586.2,1057 592.8,1065.6" stroke-width="1.38" fill="none"/>
<path d="M635.2,1048.4 Q641.8,1057 635.2,1065.6" stroke-width="1.38" fill="none"/>
<text x="594.85" y="1064.5" font-size="22.05" font-family='"Liberation Mono", monospace' fill="#000" stroke="#fff" stroke-width="0.55" textLength="38.2" lengthAdjust="spacingAndGlyphs">DR2</text>
<text x="670.41" y="1045.1" font-size="22.05" font-family='"Liberation Mono", monospace' fill="#000" stroke="#fff" stroke-width="0.55" textLength="41.14" lengthAdjust="spacing">L/O</text>
<path d="M670.5,1048.4 Q663.9,1057 670.5,1065.6" stroke-width="1.38" fill="none"/>
<path d="M712.9,1048.4 Q719.5,1057 712.9,1065.6" stroke-width="1.38" fill="none"/>
<text x="672.55" y="1064.5" font-size="22.05" font-family='"Liberation Mono", monospace' fill="#000" stroke="#fff" stroke-width="0.55" textLength="38.2" lengthAdjust="spacingAndGlyphs">DR2</text>
<line x1="405.7" y1="1067.5" x2="406" y2="1100" stroke-width="2.53"/>
<path d="M396,1085.3 L406,1079.3 L416,1085.3" stroke-width="2.3" fill="none"/>
<path d="M396,1092.1 L406,1086.1 L416,1092.1" stroke-width="2.3" fill="none"/>
<line x1="483.8" y1="1067.5" x2="484.1" y2="1100" stroke-width="2.53"/>
<path d="M474.1,1085.3 L484.1,1079.3 L494.1,1085.3" stroke-width="2.3" fill="none"/>
<path d="M474.1,1092.1 L484.1,1086.1 L494.1,1092.1" stroke-width="2.3" fill="none"/>
<line x1="614" y1="1067.5" x2="614.3" y2="1100" stroke-width="2.53"/>
<path d="M604.3,1085.3 L614.3,1079.3 L624.3,1085.3" stroke-width="2.3" fill="none"/>
<path d="M604.3,1092.1 L614.3,1086.1 L624.3,1092.1" stroke-width="2.3" fill="none"/>
<line x1="691.7" y1="1067.5" x2="692" y2="1100" stroke-width="2.53"/>
<path d="M682,1085.3 L692,1079.3 L702,1085.3" stroke-width="2.3" fill="none"/>
<path d="M682,1092.1 L692,1086.1 L702,1092.1" stroke-width="2.3" fill="none"/>
<line x1="416.5" y1="1086" x2="472.5" y2="1086" stroke-width="1.4" stroke="#444" stroke-dasharray="7 4.8"/>
<line x1="416.5" y1="1092.6" x2="472.5" y2="1092.6" stroke-width="1.4" stroke="#444" stroke-dasharray="7 4.8"/>
<line x1="624.5" y1="1086" x2="680.5" y2="1086" stroke-width="1.4" stroke="#444" stroke-dasharray="7 4.8"/>
<line x1="624.5" y1="1092.6" x2="680.5" y2="1092.6" stroke-width="1.4" stroke="#444" stroke-dasharray="7 4.8"/>
<text x="496.53" y="1094.5" font-size="22.05" font-family='"Liberation Mono", monospace' fill="#000" stroke="#fff" stroke-width="0.55" textLength="52.48" lengthAdjust="spacing">J−O4</text>
<text x="704.43" y="1094.5" font-size="22.05" font-family='"Liberation Mono", monospace' fill="#000" stroke="#fff" stroke-width="0.55" textLength="53.1" lengthAdjust="spacing">J−O5</text>
<rect x="392.23" y="1100.72" width="107.25" height="13.35" stroke-width="3.45" fill="none"/>
<path d="M392.2,1114.8 L374.8,1148.6 L516,1148.6 L499.5,1114.8" stroke-width="3.45" fill="none"/>
<rect x="599.93" y="1100.72" width="106.75" height="13.35" stroke-width="3.45" fill="none"/>
<path d="M599.9,1114.8 L583,1148.6 L724.4,1148.6 L706.7,1114.8" stroke-width="3.45" fill="none"/>
<text x="366.35" y="1169.1" font-size="22.05" font-family='"Liberation Mono", monospace' fill="#000" stroke="#fff" stroke-width="0.55" textLength="157.23" lengthAdjust="spacing">DOOR SPEAKER</text>
<text x="365.46" y="1188.7" font-size="22.05" font-family='"Liberation Mono", monospace' fill="#000" stroke="#fff" stroke-width="0.55" textLength="27.69" lengthAdjust="spacing">LH</text>
<text x="575.05" y="1169.1" font-size="22.05" font-family='"Liberation Mono", monospace' fill="#000" stroke="#fff" stroke-width="0.55" textLength="156.33" lengthAdjust="spacing">DOOR SPEAKER</text>
<text x="575.05" y="1188.7" font-size="22.05" font-family='"Liberation Mono", monospace' fill="#000" stroke="#fff" stroke-width="0.55" textLength="26.81" lengthAdjust="spacing">RH</text>
<text x="903.61" y="967.1" font-size="22.05" font-family='"Liberation Mono", monospace' fill="#000" stroke="#fff" stroke-width="0.55" textLength="41.36" lengthAdjust="spacing">L/G</text>
<path d="M915.95,970.4 Q909.35,979 915.95,987.6" stroke-width="1.38" fill="none"/>
<path d="M933.85,970.4 Q940.45,979 933.85,987.6" stroke-width="1.38" fill="none"/>
<text x="918.81" y="986.5" font-size="22.05" font-family='"Liberation Mono", monospace' fill="#000" stroke="#fff" stroke-width="0.55" textLength="12.19" lengthAdjust="spacingAndGlyphs">I</text>
<text x="995.76" y="967.1" font-size="22.05" font-family='"Liberation Mono", monospace' fill="#000" stroke="#fff" stroke-width="0.55" textLength="13.86" lengthAdjust="spacing">L</text>
<path d="M994.35,970.4 Q987.75,979 994.35,987.6" stroke-width="1.38" fill="none"/>
<path d="M1012.25,970.4 Q1018.85,979 1012.25,987.6" stroke-width="1.38" fill="none"/>
<text x="997.21" y="986.5" font-size="22.05" font-family='"Liberation Mono", monospace' fill="#000" stroke="#fff" stroke-width="0.55" textLength="12.19" lengthAdjust="spacingAndGlyphs">I</text>
<text x="1111.01" y="967.1" font-size="22.05" font-family='"Liberation Mono", monospace' fill="#000" stroke="#fff" stroke-width="0.55" textLength="40.81" lengthAdjust="spacing">L/B</text>
<path d="M1123.35,970.4 Q1116.75,979 1123.35,987.6" stroke-width="1.38" fill="none"/>
<path d="M1141.25,970.4 Q1147.85,979 1141.25,987.6" stroke-width="1.38" fill="none"/>
<text x="1126.21" y="986.5" font-size="22.05" font-family='"Liberation Mono", monospace' fill="#000" stroke="#fff" stroke-width="0.55" textLength="12.19" lengthAdjust="spacingAndGlyphs">I</text>
<text x="1189.71" y="967.1" font-size="22.05" font-family='"Liberation Mono", monospace' fill="#000" stroke="#fff" stroke-width="0.55" textLength="41.14" lengthAdjust="spacing">L/O</text>
<path d="M1202.05,970.4 Q1195.45,979 1202.05,987.6" stroke-width="1.38" fill="none"/>
<path d="M1219.95,970.4 Q1226.55,979 1219.95,987.6" stroke-width="1.38" fill="none"/>
<text x="1204.91" y="986.5" font-size="22.05" font-family='"Liberation Mono", monospace' fill="#000" stroke="#fff" stroke-width="0.55" textLength="12.19" lengthAdjust="spacingAndGlyphs">I</text>
<line x1="925" y1="990" x2="925" y2="1100" stroke-width="2.53"/>
<line x1="1003.4" y1="990" x2="1003.4" y2="1100" stroke-width="2.53"/>
<line x1="1132.5" y1="990" x2="1132.5" y2="1100" stroke-width="2.53"/>
<line x1="1211.2" y1="990" x2="1211.2" y2="1100" stroke-width="2.53"/>
<path d="M915,1081 L925,1087 L935,1081" stroke-width="2.3" fill="none"/>
<path d="M915,1087.4 L925,1093.4 L935,1087.4" stroke-width="2.3" fill="none"/>
<path d="M993.4,1081 L1003.4,1087 L1013.4,1081" stroke-width="2.3" fill="none"/>
<path d="M993.4,1087.4 L1003.4,1093.4 L1013.4,1087.4" stroke-width="2.3" fill="none"/>
<path d="M1122.5,1081 L1132.5,1087 L1142.5,1081" stroke-width="2.3" fill="none"/>
<path d="M1122.5,1087.4 L1132.5,1093.4 L1142.5,1087.4" stroke-width="2.3" fill="none"/>
<path d="M1201.2,1081 L1211.2,1087 L1221.2,1081" stroke-width="2.3" fill="none"/>
<path d="M1201.2,1087.4 L1211.2,1093.4 L1221.2,1087.4" stroke-width="2.3" fill="none"/>
<line x1="936" y1="1081" x2="992.5" y2="1081" stroke-width="1.4" stroke="#444" stroke-dasharray="7 4.8"/>
<line x1="936" y1="1087" x2="992.5" y2="1087" stroke-width="1.4" stroke="#444" stroke-dasharray="7 4.8"/>
<line x1="1143" y1="1081" x2="1200.5" y2="1081" stroke-width="1.4" stroke="#444" stroke-dasharray="7 4.8"/>
<line x1="1143" y1="1087" x2="1200.5" y2="1087" stroke-width="1.4" stroke="#444" stroke-dasharray="7 4.8"/>
<text x="1016.03" y="1094.5" font-size="22.05" font-family='"Liberation Mono", monospace' fill="#000" stroke="#fff" stroke-width="0.55" textLength="53.6" lengthAdjust="spacing">J−O6</text>
<text x="1222.93" y="1094.5" font-size="22.05" font-family='"Liberation Mono", monospace' fill="#000" stroke="#fff" stroke-width="0.55" textLength="53.73" lengthAdjust="spacing">J−O7</text>
<rect x="911.12" y="1101.32" width="107.75" height="12.95" stroke-width="3.45" fill="none"/>
<path d="M911.1,1115 L894,1148.4 L1035.9,1148.4 L1018.9,1115" stroke-width="3.45" fill="none"/>
<rect x="1118.72" y="1101.32" width="107.05" height="12.95" stroke-width="3.45" fill="none"/>
<path d="M1118.7,1115 L1101.9,1148.4 L1242.8,1148.4 L1225.8,1115" stroke-width="3.45" fill="none"/>
<text x="879.02" y="1170" font-size="22.05" font-family='"Liberation Mono", monospace' fill="#000" stroke="#fff" stroke-width="0.55" textLength="170.06" lengthAdjust="spacing">FRONT SPEAKER</text>
<text x="878.46" y="1189.5" font-size="22.05" font-family='"Liberation Mono", monospace' fill="#000" stroke="#fff" stroke-width="0.55" textLength="27.69" lengthAdjust="spacing">LH</text>
<text x="1086.72" y="1170" font-size="22.05" font-family='"Liberation Mono", monospace' fill="#000" stroke="#fff" stroke-width="0.55" textLength="169.86" lengthAdjust="spacing">FRONT SPEAKER</text>
<text x="1087.05" y="1189.5" font-size="22.05" font-family='"Liberation Mono", monospace' fill="#000" stroke="#fff" stroke-width="0.55" textLength="26.81" lengthAdjust="spacing">RH</text>
<line x1="1444.2" y1="701" x2="1444.2" y2="802" stroke-width="2.53"/>
<path d="M1434.2,707.8 L1444.2,713.5 L1454.2,707.8" stroke-width="2.3" fill="none"/>
<path d="M1434.2,714.2 L1444.2,719.9 L1454.2,714.2" stroke-width="2.3" fill="none"/>
<line x1="1522.6" y1="701" x2="1522.6" y2="802" stroke-width="2.53"/>
<path d="M1512.6,707.8 L1522.6,713.5 L1532.6,707.8" stroke-width="2.3" fill="none"/>
<path d="M1512.6,714.2 L1522.6,719.9 L1532.6,714.2" stroke-width="2.3" fill="none"/>
<line x1="1652.2" y1="701" x2="1652.2" y2="802" stroke-width="2.53"/>
<path d="M1642.2,707.8 L1652.2,713.5 L1662.2,707.8" stroke-width="2.3" fill="none"/>
<path d="M1642.2,714.2 L1652.2,719.9 L1662.2,714.2" stroke-width="2.3" fill="none"/>
<line x1="1730" y1="701" x2="1730" y2="802" stroke-width="2.53"/>
<path d="M1720,707.8 L1730,713.5 L1740,707.8" stroke-width="2.3" fill="none"/>
<path d="M1720,714.2 L1730,719.9 L1740,714.2" stroke-width="2.3" fill="none"/>
<line x1="1455" y1="708.5" x2="1511.5" y2="708.5" stroke-width="1.4" stroke="#444" stroke-dasharray="7 4.8"/>
<line x1="1455" y1="714.7" x2="1511.5" y2="714.7" stroke-width="1.4" stroke="#444" stroke-dasharray="7 4.8"/>
<line x1="1533.5" y1="708.5" x2="1641.5" y2="708.5" stroke-width="1.4" stroke="#444" stroke-dasharray="7 4.8"/>
<line x1="1533.5" y1="714.7" x2="1641.5" y2="714.7" stroke-width="1.4" stroke="#444" stroke-dasharray="7 4.8"/>
<line x1="1663" y1="708.5" x2="1719.5" y2="708.5" stroke-width="1.4" stroke="#444" stroke-dasharray="7 4.8"/>
<line x1="1663" y1="714.7" x2="1719.5" y2="714.7" stroke-width="1.4" stroke="#444" stroke-dasharray="7 4.8"/>
<text x="1741.73" y="722.9" font-size="22.05" font-family='"Liberation Mono", monospace' fill="#000" stroke="#fff" stroke-width="0.55" textLength="53.52" lengthAdjust="spacing">J−O2</text>
<text x="1424.24" y="820.6" font-size="22.05" font-family='"Liberation Mono", monospace' fill="#000" stroke="#fff" stroke-width="0.55" textLength="39.49" lengthAdjust="spacing">G/B</text>
<path d="M1435.25,823.9 Q1428.65,832.5 1435.25,841.1" stroke-width="1.38" fill="none"/>
<path d="M1453.15,823.9 Q1459.75,832.5 1453.15,841.1" stroke-width="1.38" fill="none"/>
<text x="1438.11" y="840" font-size="22.05" font-family='"Liberation Mono", monospace' fill="#000" stroke="#fff" stroke-width="0.55" textLength="12.19" lengthAdjust="spacingAndGlyphs">I</text>
<text x="1502.64" y="820.6" font-size="22.05" font-family='"Liberation Mono", monospace' fill="#000" stroke="#fff" stroke-width="0.55" textLength="39.82" lengthAdjust="spacing">G/O</text>
<path d="M1513.65,823.9 Q1507.05,832.5 1513.65,841.1" stroke-width="1.38" fill="none"/>
<path d="M1531.55,823.9 Q1538.15,832.5 1531.55,841.1" stroke-width="1.38" fill="none"/>
<text x="1516.51" y="840" font-size="22.05" font-family='"Liberation Mono", monospace' fill="#000" stroke="#fff" stroke-width="0.55" textLength="12.19" lengthAdjust="spacingAndGlyphs">I</text>
<text x="1645.99" y="820.6" font-size="22.05" font-family='"Liberation Mono", monospace' fill="#000" stroke="#fff" stroke-width="0.55" textLength="12.54" lengthAdjust="spacingAndGlyphs">G</text>
<path d="M1643.25,823.9 Q1636.65,832.5 1643.25,841.1" stroke-width="1.38" fill="none"/>
<path d="M1661.15,823.9 Q1667.75,832.5 1661.15,841.1" stroke-width="1.38" fill="none"/>
<text x="1646.11" y="840" font-size="22.05" font-family='"Liberation Mono", monospace' fill="#000" stroke="#fff" stroke-width="0.55" textLength="12.19" lengthAdjust="spacingAndGlyphs">I</text>
<text x="1710.92" y="820.6" font-size="22.05" font-family='"Liberation Mono", monospace' fill="#000" stroke="#fff" stroke-width="0.55" textLength="39.16" lengthAdjust="spacing">Y/G</text>
<path d="M1721.05,823.9 Q1714.45,832.5 1721.05,841.1" stroke-width="1.38" fill="none"/>
<path d="M1738.95,823.9 Q1745.55,832.5 1738.95,841.1" stroke-width="1.38" fill="none"/>
<text x="1723.91" y="840" font-size="22.05" font-family='"Liberation Mono", monospace' fill="#000" stroke="#fff" stroke-width="0.55" textLength="12.19" lengthAdjust="spacingAndGlyphs">I</text>
<line x1="1444.2" y1="842.5" x2="1444.7" y2="988" stroke-width="2.53"/>
<path d="M1434.5,924.3 L1444.5,930.3 L1454.5,924.3" stroke-width="2.3" fill="none"/>
<path d="M1434.5,930.9 L1444.5,936.9 L1454.5,930.9" stroke-width="2.3" fill="none"/>
<line x1="1522.6" y1="842.5" x2="1523.1" y2="988" stroke-width="2.53"/>
<path d="M1512.9,924.3 L1522.9,930.3 L1532.9,924.3" stroke-width="2.3" fill="none"/>
<path d="M1512.9,930.9 L1522.9,936.9 L1532.9,930.9" stroke-width="2.3" fill="none"/>
<line x1="1652.2" y1="842.5" x2="1652.7" y2="988" stroke-width="2.53"/>
<path d="M1642.5,924.3 L1652.5,930.3 L1662.5,924.3" stroke-width="2.3" fill="none"/>
<path d="M1642.5,930.9 L1652.5,936.9 L1662.5,930.9" stroke-width="2.3" fill="none"/>
<line x1="1730" y1="842.5" x2="1730.5" y2="988" stroke-width="2.53"/>
<path d="M1720.3,924.3 L1730.3,930.3 L1740.3,924.3" stroke-width="2.3" fill="none"/>
<path d="M1720.3,930.9 L1730.3,936.9 L1740.3,930.9" stroke-width="2.3" fill="none"/>
<line x1="1455" y1="923.8" x2="1511.5" y2="923.8" stroke-width="1.4" stroke="#444" stroke-dasharray="7 4.8"/>
<line x1="1455" y1="930.4" x2="1511.5" y2="930.4" stroke-width="1.4" stroke="#444" stroke-dasharray="7 4.8"/>
<line x1="1533.5" y1="923.8" x2="1641.5" y2="923.8" stroke-width="1.4" stroke="#444" stroke-dasharray="7 4.8"/>
<line x1="1533.5" y1="930.4" x2="1641.5" y2="930.4" stroke-width="1.4" stroke="#444" stroke-dasharray="7 4.8"/>
<line x1="1663" y1="923.8" x2="1719.5" y2="923.8" stroke-width="1.4" stroke="#444" stroke-dasharray="7 4.8"/>
<line x1="1663" y1="930.4" x2="1719.5" y2="930.4" stroke-width="1.4" stroke="#444" stroke-dasharray="7 4.8"/>
<rect x="1741.65" y="921.95" width="57.2" height="16.2" stroke-width="2.3" fill="#fff"/>
<text x="1744.66" y="936.8" font-size="22.57" font-family='"Liberation Mono", monospace' fill="#000" stroke="#fff" stroke-width="0.55" textLength="51.7" lengthAdjust="spacingAndGlyphs">X−13</text>
<circle cx="1636.6" cy="946.2" r="10" stroke-width="1.61" fill="none"/>
<text x="1636.6" y="953.22" font-size="19.5" font-family='"Liberation Mono", monospace' text-anchor="middle" stroke="#fff" stroke-width="0.5" fill="#000">G</text>
<text x="1424.74" y="1006.1" font-size="22.05" font-family='"Liberation Mono", monospace' fill="#000" stroke="#fff" stroke-width="0.55" textLength="39.49" lengthAdjust="spacing">G/B</text>
<path d="M1435.75,1009.4 Q1429.15,1018 1435.75,1026.6" stroke-width="1.38" fill="none"/>
<path d="M1453.65,1009.4 Q1460.25,1018 1453.65,1026.6" stroke-width="1.38" fill="none"/>
<text x="1438.05" y="1025.5" font-size="22.05" font-family='"Liberation Mono", monospace' fill="#000" stroke="#fff" stroke-width="0.55" textLength="12.21" lengthAdjust="spacingAndGlyphs">R</text>
<text x="1503.14" y="1006.1" font-size="22.05" font-family='"Liberation Mono", monospace' fill="#000" stroke="#fff" stroke-width="0.55" textLength="39.82" lengthAdjust="spacing">G/O</text>
<path d="M1514.15,1009.4 Q1507.55,1018 1514.15,1026.6" stroke-width="1.38" fill="none"/>
<path d="M1532.05,1009.4 Q1538.65,1018 1532.05,1026.6" stroke-width="1.38" fill="none"/>
<text x="1516.45" y="1025.5" font-size="22.05" font-family='"Liberation Mono", monospace' fill="#000" stroke="#fff" stroke-width="0.55" textLength="12.21" lengthAdjust="spacingAndGlyphs">R</text>
<text x="1646.49" y="1006.1" font-size="22.05" font-family='"Liberation Mono", monospace' fill="#000" stroke="#fff" stroke-width="0.55" textLength="12.54" lengthAdjust="spacingAndGlyphs">G</text>
<path d="M1643.75,1009.4 Q1637.15,1018 1643.75,1026.6" stroke-width="1.38" fill="none"/>
<path d="M1661.65,1009.4 Q1668.25,1018 1661.65,1026.6" stroke-width="1.38" fill="none"/>
<text x="1646.05" y="1025.5" font-size="22.05" font-family='"Liberation Mono", monospace' fill="#000" stroke="#fff" stroke-width="0.55" textLength="12.21" lengthAdjust="spacingAndGlyphs">R</text>
<text x="1711.42" y="1006.1" font-size="22.05" font-family='"Liberation Mono", monospace' fill="#000" stroke="#fff" stroke-width="0.55" textLength="39.16" lengthAdjust="spacing">Y/G</text>
<path d="M1721.55,1009.4 Q1714.95,1018 1721.55,1026.6" stroke-width="1.38" fill="none"/>
<path d="M1739.45,1009.4 Q1746.05,1018 1739.45,1026.6" stroke-width="1.38" fill="none"/>
<text x="1723.85" y="1025.5" font-size="22.05" font-family='"Liberation Mono", monospace' fill="#000" stroke="#fff" stroke-width="0.55" textLength="12.21" lengthAdjust="spacingAndGlyphs">R</text>
<line x1="1444.8" y1="1029" x2="1444.8" y2="1100" stroke-width="2.53"/>
<path d="M1434.8,1086 L1444.8,1080 L1454.8,1086" stroke-width="2.3" fill="none"/>
<path d="M1434.8,1092.8 L1444.8,1086.8 L1454.8,1092.8" stroke-width="2.3" fill="none"/>
<line x1="1523.2" y1="1029" x2="1523.2" y2="1100" stroke-width="2.53"/>
<path d="M1513.2,1086 L1523.2,1080 L1533.2,1086" stroke-width="2.3" fill="none"/>
<path d="M1513.2,1092.8 L1523.2,1086.8 L1533.2,1092.8" stroke-width="2.3" fill="none"/>
<line x1="1652.8" y1="1029" x2="1652.8" y2="1100" stroke-width="2.53"/>
<path d="M1642.8,1086 L1652.8,1080 L1662.8,1086" stroke-width="2.3" fill="none"/>
<path d="M1642.8,1092.8 L1652.8,1086.8 L1662.8,1092.8" stroke-width="2.3" fill="none"/>
<line x1="1730.6" y1="1029" x2="1730.6" y2="1100" stroke-width="2.53"/>
<path d="M1720.6,1086 L1730.6,1080 L1740.6,1086" stroke-width="2.3" fill="none"/>
<path d="M1720.6,1092.8 L1730.6,1086.8 L1740.6,1092.8" stroke-width="2.3" fill="none"/>
<line x1="1456" y1="1086" x2="1512" y2="1086" stroke-width="1.4" stroke="#444" stroke-dasharray="7 4.8"/>
<line x1="1456" y1="1092.8" x2="1512" y2="1092.8" stroke-width="1.4" stroke="#444" stroke-dasharray="7 4.8"/>
<line x1="1664" y1="1086" x2="1720" y2="1086" stroke-width="1.4" stroke="#444" stroke-dasharray="7 4.8"/>
<line x1="1664" y1="1092.8" x2="1720" y2="1092.8" stroke-width="1.4" stroke="#444" stroke-dasharray="7 4.8"/>
<text x="1535.73" y="1094.5" font-size="22.05" font-family='"Liberation Mono", monospace' fill="#000" stroke="#fff" stroke-width="0.55" textLength="53.11" lengthAdjust="spacing">J−O8</text>
<text x="1742.83" y="1094.5" font-size="22.05" font-family='"Liberation Mono", monospace' fill="#000" stroke="#fff" stroke-width="0.55" textLength="53.41" lengthAdjust="spacing">J−O9</text>
<rect x="1430.02" y="1100.72" width="108.75" height="13.55" stroke-width="3.45" fill="none"/>
<path d="M1430,1115 L1413,1148.3 L1555.7,1148.3 L1538.8,1115" stroke-width="3.45" fill="none"/>
<rect x="1638.32" y="1100.72" width="107.55" height="13.55" stroke-width="3.45" fill="none"/>
<path d="M1638.3,1115 L1621,1148.3 L1764,1148.3 L1745.9,1115" stroke-width="3.45" fill="none"/>
<text x="1405.25" y="1169.5" font-size="22.05" font-family='"Liberation Mono", monospace' fill="#000" stroke="#fff" stroke-width="0.55" textLength="156.73" lengthAdjust="spacing">REAR SPEAKER</text>
<text x="1404.36" y="1189.1" font-size="22.05" font-family='"Liberation Mono", monospace' fill="#000" stroke="#fff" stroke-width="0.55" textLength="27.69" lengthAdjust="spacing">LH</text>
<text x="1613.35" y="1169.5" font-size="22.05" font-family='"Liberation Mono", monospace' fill="#000" stroke="#fff" stroke-width="0.55" textLength="156.23" lengthAdjust="spacing">REAR SPEAKER</text>
<text x="1613.35" y="1189.1" font-size="22.05" font-family='"Liberation Mono", monospace' fill="#000" stroke="#fff" stroke-width="0.55" textLength="26.81" lengthAdjust="spacing">RH</text>
<line x1="1990.8" y1="701" x2="1990.8" y2="802" stroke-width="2.53"/>
<path d="M1980.8,707.8 L1990.8,713.5 L2000.8,707.8" stroke-width="2.3" fill="none"/>
<path d="M1980.8,714.2 L1990.8,719.9 L2000.8,714.2" stroke-width="2.3" fill="none"/>
<text x="2002.83" y="722.9" font-size="22.05" font-family='"Liberation Mono", monospace' fill="#000" stroke="#fff" stroke-width="0.55" textLength="54" lengthAdjust="spacing">J−O3</text>
<text x="1970.4" y="820.6" font-size="22.05" font-family='"Liberation Mono", monospace' fill="#000" stroke="#fff" stroke-width="0.55" textLength="40.48" lengthAdjust="spacing">B/L</text>
<path d="M1981.85,823.9 Q1975.25,832.5 1981.85,841.1" stroke-width="1.38" fill="none"/>
<path d="M1999.75,823.9 Q2006.35,832.5 1999.75,841.1" stroke-width="1.38" fill="none"/>
<text x="1984.71" y="840" font-size="22.05" font-family='"Liberation Mono", monospace' fill="#000" stroke="#fff" stroke-width="0.55" textLength="12.19" lengthAdjust="spacingAndGlyphs">I</text>
<line x1="1990.8" y1="842.5" x2="1991.8" y2="1186.2" stroke-width="2.53"/>
<circle cx="1991.8" cy="1202.9" r="16.2" stroke-width="2.3" fill="none"/>
<text x="1991.8" y="1210.5" font-size="21" font-family='"Liberation Mono", monospace' text-anchor="middle" fill="#000" stroke="#fff" stroke-width="0.4">5</text>
<line x1="177" y1="1202.6" x2="1976.2" y2="1202.6" stroke-width="2.53"/>
<line x1="2007.4" y1="1202.6" x2="2263" y2="1202.2" stroke-width="2.53"/>
<path d="M122.8,1209.5 C122.8,1203 127,1199 137.5,1197 C141,1191 148.5,1188.3 159.5,1188.3 C170.5,1188.3 177.3,1195 177.3,1203 C177.3,1210.5 173.5,1215.5 168.5,1216.8 C166.5,1219.5 161,1219.8 158.5,1217 L144,1217 C141.5,1219.8 136,1219.8 133.5,1217 C126.5,1216.5 122.8,1213.5 122.8,1209.5 Z" stroke-width="0.92" fill="#000"/>
<text x="157.8" y="1210.8" font-size="24" font-family='"Liberation Sans", sans-serif' font-weight="bold" text-anchor="middle" fill="#fff" stroke="none" textLength="19.5" lengthAdjust="spacingAndGlyphs">G</text>
<line x1="91.5" y1="1235.2" x2="2319.5" y2="1235.4" stroke-width="3.33"/>
<line x1="91.8" y1="1398" x2="2319.8" y2="1398.8" stroke-width="3.33"/>
<line x1="91.8" y1="1561.4" x2="2319.9" y2="1562" stroke-width="3.22"/>
<line x1="729" y1="1235" x2="729" y2="1723.8" stroke-width="2.76"/>
<line x1="1364.8" y1="1235" x2="1365.8" y2="1724.2" stroke-width="2.76"/>
<line x1="1683.2" y1="1235" x2="1684" y2="1724.3" stroke-width="2.76"/>
<line x1="1047.4" y1="1398" x2="1048.9" y2="1724" stroke-width="2.76"/>
<line x1="2002.4" y1="1398.2" x2="2003" y2="1724.4" stroke-width="2.76"/>
<line x1="410.8" y1="1561" x2="411.2" y2="1723.7" stroke-width="2.76"/>
<text x="97.33" y="1256.1" font-size="22.05" font-family='"Liberation Mono", monospace' fill="#000" stroke="#fff" stroke-width="0.55" textLength="195.17" lengthAdjust="spacing">J−O1 AUDIO UNIT</text>
<path d="M302.9,1240 Q296.3,1248.6 302.9,1257.2" stroke-width="1.38" fill="none"/>
<path d="M320.6,1240 Q327.2,1248.6 320.6,1257.2" stroke-width="1.38" fill="none"/>
<text x="305.66" y="1256.1" font-size="22.05" font-family='"Liberation Mono", monospace' fill="#000" stroke="#fff" stroke-width="0.55" textLength="12.19" lengthAdjust="spacingAndGlyphs">I</text>
<text x="733.63" y="1256.7" font-size="22.05" font-family='"Liberation Mono", monospace' fill="#000" stroke="#fff" stroke-width="0.55" textLength="195.17" lengthAdjust="spacing">J−O2 AUDIO UNIT</text>
<path d="M939.2,1240.6 Q932.6,1249.2 939.2,1257.8" stroke-width="1.38" fill="none"/>
<path d="M956.9,1240.6 Q963.5,1249.2 956.9,1257.8" stroke-width="1.38" fill="none"/>
<text x="941.96" y="1256.7" font-size="22.05" font-family='"Liberation Mono", monospace' fill="#000" stroke="#fff" stroke-width="0.55" textLength="12.19" lengthAdjust="spacingAndGlyphs">I</text>
<text x="1369.83" y="1257.1" font-size="22.05" font-family='"Liberation Mono", monospace' fill="#000" stroke="#fff" stroke-width="0.55" textLength="195.17" lengthAdjust="spacing">J−O3 AUDIO UNIT</text>
<path d="M1575.4,1241 Q1568.8,1249.6 1575.4,1258.2" stroke-width="1.38" fill="none"/>
<path d="M1593.1,1241 Q1599.7,1249.6 1593.1,1258.2" stroke-width="1.38" fill="none"/>
<text x="1578.16" y="1257.1" font-size="22.05" font-family='"Liberation Mono", monospace' fill="#000" stroke="#fff" stroke-width="0.55" textLength="12.19" lengthAdjust="spacingAndGlyphs">I</text>
<text x="1688.43" y="1256.5" font-size="22.05" font-family='"Liberation Mono", monospace' fill="#000" stroke="#fff" stroke-width="0.55" textLength="262.26" lengthAdjust="spacing">J−O4 DOOR SPEAKER LH</text>
<path d="M1961,1240.4 Q1954.4,1249 1961,1257.6" stroke-width="1.38" fill="none"/>
<path d="M2003,1240.4 Q2009.6,1249 2003,1257.6" stroke-width="1.38" fill="none"/>
<text x="1962.85" y="1256.5" font-size="22.05" font-family='"Liberation Mono", monospace' fill="#000" stroke="#fff" stroke-width="0.55" textLength="37.65" lengthAdjust="spacingAndGlyphs">DR1</text>
<text x="96.63" y="1419.5" font-size="22.05" font-family='"Liberation Mono", monospace' fill="#000" stroke="#fff" stroke-width="0.55" textLength="262.26" lengthAdjust="spacing">J−O5 DOOR SPEAKER RH</text>
<path d="M369.2,1403.4 Q362.6,1412 369.2,1420.6" stroke-width="1.38" fill="none"/>
<path d="M411.2,1403.4 Q417.8,1412 411.2,1420.6" stroke-width="1.38" fill="none"/>
<text x="371.05" y="1419.5" font-size="22.05" font-family='"Liberation Mono", monospace' fill="#000" stroke="#fff" stroke-width="0.55" textLength="38.2" lengthAdjust="spacingAndGlyphs">DR2</text>
<text x="734.53" y="1420.5" font-size="22.05" font-family='"Liberation Mono", monospace' fill="#000" stroke="#fff" stroke-width="0.55" textLength="275.16" lengthAdjust="spacing">J−O6 FRONT SPEAKER LH</text>
<path d="M979.3,1423.6 Q972.7,1432.2 979.3,1440.8" stroke-width="1.38" fill="none"/>
<path d="M997.2,1423.6 Q1003.8,1432.2 997.2,1440.8" stroke-width="1.38" fill="none"/>
<text x="982.16" y="1439.7" font-size="22.05" font-family='"Liberation Mono", monospace' fill="#000" stroke="#fff" stroke-width="0.55" textLength="12.19" lengthAdjust="spacingAndGlyphs">I</text>
<text x="1052.33" y="1420.5" font-size="22.05" font-family='"Liberation Mono", monospace' fill="#000" stroke="#fff" stroke-width="0.55" textLength="275.16" lengthAdjust="spacing">J−O7 FRONT SPEAKER RH</text>
<path d="M1297.3,1423.6 Q1290.7,1432.2 1297.3,1440.8" stroke-width="1.38" fill="none"/>
<path d="M1315.2,1423.6 Q1321.8,1432.2 1315.2,1440.8" stroke-width="1.38" fill="none"/>
<text x="1300.16" y="1439.7" font-size="22.05" font-family='"Liberation Mono", monospace' fill="#000" stroke="#fff" stroke-width="0.55" textLength="12.19" lengthAdjust="spacingAndGlyphs">I</text>
<text x="1369.83" y="1419.5" font-size="22.05" font-family='"Liberation Mono", monospace' fill="#000" stroke="#fff" stroke-width="0.55" textLength="263.86" lengthAdjust="spacing">J−O8 REAR SPEAKER LH</text>
<path d="M1643.2,1403.4 Q1636.6,1412 1643.2,1420.6" stroke-width="1.38" fill="none"/>
<path d="M1659.5,1403.4 Q1666.1,1412 1659.5,1420.6" stroke-width="1.38" fill="none"/>
<text x="1644.7" y="1419.5" font-size="22.05" font-family='"Liberation Mono", monospace' fill="#000" stroke="#fff" stroke-width="0.55" textLength="12.21" lengthAdjust="spacingAndGlyphs">R</text>
<text x="1688.43" y="1419.3" font-size="22.05" font-family='"Liberation Mono", monospace' fill="#000" stroke="#fff" stroke-width="0.55" textLength="263.86" lengthAdjust="spacing">J−O9 REAR SPEAKER RH</text>
<path d="M1961.8,1403.2 Q1955.2,1411.8 1961.8,1420.4" stroke-width="1.38" fill="none"/>
<path d="M1978.1,1403.2 Q1984.7,1411.8 1978.1,1420.4" stroke-width="1.38" fill="none"/>
<text x="1963.3" y="1419.3" font-size="22.05" font-family='"Liberation Mono", monospace' fill="#000" stroke="#fff" stroke-width="0.55" textLength="12.21" lengthAdjust="spacingAndGlyphs">R</text>
<rect x="219.05" y="1289.95" width="101.7" height="79.3" stroke-width="2.3" fill="none"/>
<line x1="217.9" y1="1328.3" x2="321.9" y2="1328.3" stroke-width="2.07"/>
<line x1="217.9" y1="1331.3" x2="321.9" y2="1331.3" stroke-width="1.84"/>
<line x1="269.9" y1="1288.8" x2="269.9" y2="1370.4" stroke-width="2.3"/>
<text x="222.92" y="1316.45" font-size="21.53" font-family='"Liberation Mono", monospace' fill="#000" stroke="#fff" stroke-width="0.55" textLength="40.23" lengthAdjust="spacing">L/B</text>
<text x="222.92" y="1357.25" font-size="21.53" font-family='"Liberation Mono", monospace' fill="#000" stroke="#fff" stroke-width="0.55" textLength="40.56" lengthAdjust="spacing">L/O</text>
<text x="274.92" y="1316.45" font-size="21.53" font-family='"Liberation Mono", monospace' fill="#000" stroke="#fff" stroke-width="0.55" textLength="40.77" lengthAdjust="spacing">L/G</text>
<text x="288.67" y="1357.25" font-size="21.53" font-family='"Liberation Mono", monospace' fill="#000" stroke="#fff" stroke-width="0.55" textLength="13.27" lengthAdjust="spacing">L</text>
<rect x="333.15" y="1290.35" width="102.3" height="79.1" stroke-width="2.3" fill="none"/>
<line x1="332" y1="1328.6" x2="436.6" y2="1328.6" stroke-width="2.07"/>
<line x1="332" y1="1331.6" x2="436.6" y2="1331.6" stroke-width="1.84"/>
<line x1="384.5" y1="1329.8" x2="384.5" y2="1370.6" stroke-width="2.3"/>
<line x1="333" y1="1290.2" x2="435.6" y2="1327.8" stroke-width="2.3"/>
<line x1="435.6" y1="1290.2" x2="333" y2="1327.8" stroke-width="2.3"/>
<line x1="358.25" y1="1346" x2="358.25" y2="1356.4" stroke-width="1.44"/>
<line x1="353.75" y1="1348.6" x2="362.75" y2="1353.8" stroke-width="1.44"/>
<line x1="362.75" y1="1348.6" x2="353.75" y2="1353.8" stroke-width="1.44"/>
<line x1="410.55" y1="1346" x2="410.55" y2="1356.4" stroke-width="1.44"/>
<line x1="406.05" y1="1348.6" x2="415.05" y2="1353.8" stroke-width="1.44"/>
<line x1="415.05" y1="1348.6" x2="406.05" y2="1353.8" stroke-width="1.44"/>
<rect x="446.75" y="1290.65" width="154.3" height="79" stroke-width="2.3" fill="none"/>
<line x1="445.6" y1="1329" x2="602.2" y2="1329" stroke-width="2.07"/>
<line x1="445.6" y1="1332" x2="602.2" y2="1332" stroke-width="1.84"/>
<line x1="497.8" y1="1289.5" x2="497.8" y2="1370.8" stroke-width="2.3"/>
<line x1="550" y1="1289.5" x2="550" y2="1370.8" stroke-width="2.3"/>
<text x="465.98" y="1317.15" font-size="21.53" font-family='"Liberation Mono", monospace' fill="#000" stroke="#fff" stroke-width="0.55" textLength="11.55" lengthAdjust="spacingAndGlyphs">O</text>
<text x="458.84" y="1357.8" font-size="21.53" font-family='"Liberation Mono", monospace' fill="#000" stroke="#fff" stroke-width="0.55" textLength="24.66" lengthAdjust="spacingAndGlyphs">BR</text>
<text x="502.92" y="1317.15" font-size="21.53" font-family='"Liberation Mono", monospace' fill="#000" stroke="#fff" stroke-width="0.55" textLength="40.02" lengthAdjust="spacing">L/R</text>
<text x="503.79" y="1357.8" font-size="21.53" font-family='"Liberation Mono", monospace' fill="#000" stroke="#fff" stroke-width="0.55" textLength="39.91" lengthAdjust="spacing">R/G</text>
<text x="555.12" y="1317.15" font-size="21.53" font-family='"Liberation Mono", monospace' fill="#000" stroke="#fff" stroke-width="0.55" textLength="39.48" lengthAdjust="spacing">L/W</text>
<line x1="576.1" y1="1346.3" x2="576.1" y2="1356.7" stroke-width="1.44"/>
<line x1="571.6" y1="1348.9" x2="580.6" y2="1354.1" stroke-width="1.44"/>
<line x1="580.6" y1="1348.9" x2="571.6" y2="1354.1" stroke-width="1.44"/>
<line x1="321.9" y1="1329.2" x2="332" y2="1329.2" stroke-width="2.07"/>
<line x1="321.9" y1="1341" x2="332" y2="1341" stroke-width="2.07"/>
<line x1="436.6" y1="1329.6" x2="445.6" y2="1329.6" stroke-width="2.07"/>
<line x1="436.6" y1="1341.5" x2="445.6" y2="1341.5" stroke-width="2.07"/>
<rect x="907.65" y="1291.15" width="50.5" height="79.3" stroke-width="2.3" fill="none"/>
<line x1="906.5" y1="1329.3" x2="959.3" y2="1329.3" stroke-width="2.07"/>
<line x1="906.5" y1="1332.3" x2="959.3" y2="1332.3" stroke-width="1.84"/>
<line x1="932.9" y1="1306.05" x2="932.9" y2="1316.45" stroke-width="1.44"/>
<line x1="928.4" y1="1308.65" x2="937.4" y2="1313.85" stroke-width="1.44"/>
<line x1="937.4" y1="1308.65" x2="928.4" y2="1313.85" stroke-width="1.44"/>
<line x1="932.9" y1="1346.85" x2="932.9" y2="1357.25" stroke-width="1.44"/>
<line x1="928.4" y1="1349.45" x2="937.4" y2="1354.65" stroke-width="1.44"/>
<line x1="937.4" y1="1349.45" x2="928.4" y2="1354.65" stroke-width="1.44"/>
<rect x="969.75" y="1291.15" width="102.7" height="79.3" stroke-width="2.3" fill="none"/>
<line x1="968.6" y1="1329.3" x2="1073.6" y2="1329.3" stroke-width="2.07"/>
<line x1="968.6" y1="1332.3" x2="1073.6" y2="1332.3" stroke-width="1.84"/>
<line x1="1021.4" y1="1330.5" x2="1021.4" y2="1371.6" stroke-width="2.3"/>
<line x1="969.6" y1="1291" x2="1072.6" y2="1328.5" stroke-width="2.3"/>
<line x1="1072.6" y1="1291" x2="969.6" y2="1328.5" stroke-width="2.3"/>
<text x="976.18" y="1358.35" font-size="21.53" font-family='"Liberation Mono", monospace' fill="#000" stroke="#fff" stroke-width="0.55" textLength="38.62" lengthAdjust="spacing">Y/G</text>
<text x="1041.57" y="1358.35" font-size="21.53" font-family='"Liberation Mono", monospace' fill="#000" stroke="#fff" stroke-width="0.55" textLength="11.98" lengthAdjust="spacingAndGlyphs">G</text>
<rect x="1083.75" y="1291.15" width="101.5" height="79.3" stroke-width="2.3" fill="none"/>
<line x1="1082.6" y1="1329.3" x2="1186.4" y2="1329.3" stroke-width="2.07"/>
<line x1="1082.6" y1="1332.3" x2="1186.4" y2="1332.3" stroke-width="1.84"/>
<line x1="1134.2" y1="1290" x2="1134.2" y2="1371.6" stroke-width="2.3"/>
<line x1="1108.4" y1="1306.05" x2="1108.4" y2="1316.45" stroke-width="1.44"/>
<line x1="1103.9" y1="1308.65" x2="1112.9" y2="1313.85" stroke-width="1.44"/>
<line x1="1112.9" y1="1308.65" x2="1103.9" y2="1313.85" stroke-width="1.44"/>
<line x1="1108.4" y1="1346.85" x2="1108.4" y2="1357.25" stroke-width="1.44"/>
<line x1="1103.9" y1="1349.45" x2="1112.9" y2="1354.65" stroke-width="1.44"/>
<line x1="1112.9" y1="1349.45" x2="1103.9" y2="1354.65" stroke-width="1.44"/>
<text x="1140.62" y="1317.55" font-size="21.53" font-family='"Liberation Mono", monospace' fill="#000" stroke="#fff" stroke-width="0.55" textLength="38.94" lengthAdjust="spacing">G/B</text>
<text x="1140.62" y="1358.35" font-size="21.53" font-family='"Liberation Mono", monospace' fill="#000" stroke="#fff" stroke-width="0.55" textLength="39.27" lengthAdjust="spacing">G/O</text>
<line x1="959.3" y1="1329.8" x2="968.6" y2="1329.8" stroke-width="2.07"/>
<line x1="959.3" y1="1341.8" x2="968.6" y2="1341.8" stroke-width="2.07"/>
<line x1="1073.6" y1="1329.8" x2="1082.6" y2="1329.8" stroke-width="2.07"/>
<line x1="1073.6" y1="1341.8" x2="1082.6" y2="1341.8" stroke-width="2.07"/>
<rect x="1470.95" y="1312.45" width="50.6" height="36.6" stroke-width="2.3" fill="none"/>
<text x="1476.14" y="1338.05" font-size="21.53" font-family='"Liberation Mono", monospace' fill="#000" stroke="#fff" stroke-width="0.55" textLength="39.91" lengthAdjust="spacing">B/L</text>
<rect x="1536.15" y="1313.85" width="41" height="32.5" stroke-width="2.3" fill="none"/>
<line x1="1535" y1="1341.5" x2="1578.3" y2="1341.5" stroke-width="1.84"/>
<rect x="1529.52" y="1321.92" width="5.06" height="16.16" stroke-width="1.84" fill="none"/>
<line x1="1535" y1="1316" x2="1578.3" y2="1316" stroke-width="1.38"/>
<text x="1768.86" y="1338.9" font-size="22.05" font-family='"Liberation Mono", monospace' fill="#000" stroke="#fff" stroke-width="0.55" textLength="41.37" lengthAdjust="spacing">626</text>
<rect x="1817.65" y="1292.15" width="50.2" height="75.9" stroke-width="2.3" fill="none"/>
<line x1="1816.5" y1="1329.9" x2="1869" y2="1329.9" stroke-width="2.07"/>
<rect x="1836.42" y="1285.42" width="12.66" height="5.16" stroke-width="1.84" fill="none"/>
<line x1="1837.5" y1="1287.75" x2="1848" y2="1287.75" stroke-width="1.38" stroke-dasharray="2 1.5"/>
<rect x="1836.67" y="1369.62" width="12.16" height="5.16" stroke-width="1.84" fill="none"/>
<text x="1835.52" y="1317.75" font-size="21.53" font-family='"Liberation Mono", monospace' fill="#000" stroke="#fff" stroke-width="0.55" textLength="13.27" lengthAdjust="spacing">L</text>
<text x="1821.77" y="1356.85" font-size="21.53" font-family='"Liberation Mono", monospace' fill="#000" stroke="#fff" stroke-width="0.55" textLength="40.77" lengthAdjust="spacing">L/G</text>
<text x="2042.68" y="1338.9" font-size="22.05" font-family='"Liberation Mono", monospace' fill="#000" stroke="#fff" stroke-width="0.55" textLength="53.65" lengthAdjust="spacing">MX−6</text>
<rect x="2109.75" y="1311.55" width="101.7" height="42.9" stroke-width="2.3" fill="none"/>
<line x1="2108.6" y1="1350" x2="2212.6" y2="1350" stroke-width="2.07"/>
<line x1="2160.6" y1="1310.4" x2="2160.6" y2="1350" stroke-width="2.07"/>
<rect x="2154.27" y="1304.82" width="12.66" height="5.16" stroke-width="1.84" fill="none"/>
<line x1="2155.35" y1="1307.15" x2="2165.85" y2="1307.15" stroke-width="1.38" stroke-dasharray="2 1.5"/>
<rect x="2103.32" y="1320.82" width="4.86" height="11.66" stroke-width="1.84" fill="none"/>
<rect x="2213.02" y="1320.82" width="4.86" height="11.66" stroke-width="1.84" fill="none"/>
<text x="2113.62" y="1337.5" font-size="21.53" font-family='"Liberation Mono", monospace' fill="#000" stroke="#fff" stroke-width="0.55" textLength="40.77" lengthAdjust="spacing">L/G</text>
<text x="2179.37" y="1337.5" font-size="21.53" font-family='"Liberation Mono", monospace' fill="#000" stroke="#fff" stroke-width="0.55" textLength="13.27" lengthAdjust="spacing">L</text>
<text x="178.46" y="1500.5" font-size="22.05" font-family='"Liberation Mono", monospace' fill="#000" stroke="#fff" stroke-width="0.55" textLength="40.77" lengthAdjust="spacing">626</text>
<rect x="225.85" y="1453.85" width="50.6" height="76.7" stroke-width="2.3" fill="none"/>
<line x1="224.7" y1="1492.4" x2="277.6" y2="1492.4" stroke-width="2.07"/>
<rect x="244.82" y="1447.12" width="12.66" height="5.16" stroke-width="1.84" fill="none"/>
<line x1="245.9" y1="1449.45" x2="256.4" y2="1449.45" stroke-width="1.38" stroke-dasharray="2 1.5"/>
<rect x="245.07" y="1532.12" width="12.16" height="5.16" stroke-width="1.84" fill="none"/>
<text x="230.17" y="1479.85" font-size="21.53" font-family='"Liberation Mono", monospace' fill="#000" stroke="#fff" stroke-width="0.55" textLength="40.56" lengthAdjust="spacing">L/O</text>
<text x="230.17" y="1519.35" font-size="21.53" font-family='"Liberation Mono", monospace' fill="#000" stroke="#fff" stroke-width="0.55" textLength="40.23" lengthAdjust="spacing">L/B</text>
<text x="451.68" y="1500.5" font-size="22.05" font-family='"Liberation Mono", monospace' fill="#000" stroke="#fff" stroke-width="0.55" textLength="53.45" lengthAdjust="spacing">MX−6</text>
<rect x="518.35" y="1473.85" width="103" height="44" stroke-width="2.3" fill="none"/>
<line x1="517.2" y1="1511.8" x2="622.5" y2="1511.8" stroke-width="2.07"/>
<line x1="570" y1="1472.7" x2="570" y2="1511.8" stroke-width="2.07"/>
<rect x="563.67" y="1467.12" width="12.66" height="5.16" stroke-width="1.84" fill="none"/>
<line x1="564.75" y1="1469.45" x2="575.25" y2="1469.45" stroke-width="1.38" stroke-dasharray="2 1.5"/>
<rect x="511.92" y="1483.12" width="4.86" height="11.66" stroke-width="1.84" fill="none"/>
<rect x="622.92" y="1483.12" width="4.86" height="11.66" stroke-width="1.84" fill="none"/>
<text x="522.62" y="1499.55" font-size="21.53" font-family='"Liberation Mono", monospace' fill="#000" stroke="#fff" stroke-width="0.55" textLength="40.23" lengthAdjust="spacing">L/B</text>
<text x="575.27" y="1499.55" font-size="21.53" font-family='"Liberation Mono", monospace' fill="#000" stroke="#fff" stroke-width="0.55" textLength="40.56" lengthAdjust="spacing">L/O</text>
<rect x="1499.45" y="1455.35" width="50.6" height="76.8" stroke-width="2.3" fill="none"/>
<line x1="1498.3" y1="1493" x2="1551.2" y2="1493" stroke-width="2.07"/>
<rect x="1518.42" y="1448.62" width="12.66" height="5.16" stroke-width="1.84" fill="none"/>
<line x1="1519.5" y1="1450.95" x2="1530" y2="1450.95" stroke-width="1.38" stroke-dasharray="2 1.5"/>
<rect x="1518.67" y="1533.72" width="12.16" height="5.16" stroke-width="1.84" fill="none"/>
<text x="1505.07" y="1480.9" font-size="21.53" font-family='"Liberation Mono", monospace' fill="#000" stroke="#fff" stroke-width="0.55" textLength="39.27" lengthAdjust="spacing">G/O</text>
<text x="1505.07" y="1520.45" font-size="21.53" font-family='"Liberation Mono", monospace' fill="#000" stroke="#fff" stroke-width="0.55" textLength="38.94" lengthAdjust="spacing">G/B</text>
<rect x="1817.65" y="1455.35" width="51.1" height="76.8" stroke-width="2.3" fill="none"/>
<line x1="1816.5" y1="1493" x2="1869.9" y2="1493" stroke-width="2.07"/>
<rect x="1836.87" y="1448.62" width="12.66" height="5.16" stroke-width="1.84" fill="none"/>
<line x1="1837.95" y1="1450.95" x2="1848.45" y2="1450.95" stroke-width="1.38" stroke-dasharray="2 1.5"/>
<rect x="1837.12" y="1533.72" width="12.16" height="5.16" stroke-width="1.84" fill="none"/>
<text x="1824.38" y="1480.9" font-size="21.53" font-family='"Liberation Mono", monospace' fill="#000" stroke="#fff" stroke-width="0.55" textLength="38.62" lengthAdjust="spacing">Y/G</text>
<text x="1837.27" y="1520.45" font-size="21.53" font-family='"Liberation Mono", monospace' fill="#000" stroke="#fff" stroke-width="0.55" textLength="11.98" lengthAdjust="spacingAndGlyphs">G</text>
<rect x="804.75" y="1455.15" width="167.1" height="63.5" stroke-width="2.3" fill="none"/>
<path d="M805.6,1497.8 C797.6,1497.8 797.6,1501.8 797.6,1509.8 L797.6,1520.8 C797.6,1525.8 800.6,1526.8 805.6,1526.8 L861.6,1526.8 C866.6,1526.8 869.6,1524.8 868.6,1519.8" stroke-width="2.07" fill="none"/>
<path d="M971,1497.8 C979,1497.8 979,1501.8 979,1509.8 L979,1520.8 C979,1525.8 976,1526.8 971,1526.8 L915,1526.8 C910,1526.8 907,1524.8 908,1519.8" stroke-width="2.07" fill="none"/>
<rect x="811.15" y="1475.15" width="153.9" height="36.7" stroke-width="2.3" fill="#fff"/>
<line x1="862" y1="1474" x2="862" y2="1513" stroke-width="2.3"/>
<line x1="914" y1="1474" x2="914" y2="1513" stroke-width="2.3"/>
<text x="828.77" y="1500.8" font-size="21.53" font-family='"Liberation Mono", monospace' fill="#000" stroke="#fff" stroke-width="0.55" textLength="13.27" lengthAdjust="spacing">L</text>
<text x="867.02" y="1500.8" font-size="21.53" font-family='"Liberation Mono", monospace' fill="#000" stroke="#fff" stroke-width="0.55" textLength="40.77" lengthAdjust="spacing">L/G</text>
<line x1="940.1" y1="1489.3" x2="940.1" y2="1499.7" stroke-width="1.44"/>
<line x1="935.6" y1="1491.9" x2="944.6" y2="1497.1" stroke-width="1.44"/>
<line x1="944.6" y1="1491.9" x2="935.6" y2="1497.1" stroke-width="1.44"/>
<rect x="833.32" y="1461.42" width="5.36" height="12.16" stroke-width="1.84" fill="none"/>
<rect x="937.42" y="1461.42" width="5.36" height="12.16" stroke-width="1.84" fill="none"/>
<rect x="881.67" y="1468.42" width="12.66" height="5.16" stroke-width="1.84" fill="none"/>
<line x1="882.75" y1="1470.75" x2="893.25" y2="1470.75" stroke-width="1.38" stroke-dasharray="2 1.5"/>
<rect x="1122.55" y="1455.15" width="167.8" height="63.5" stroke-width="2.3" fill="none"/>
<path d="M1123.4,1497.8 C1115.4,1497.8 1115.4,1501.8 1115.4,1509.8 L1115.4,1520.8 C1115.4,1525.8 1118.4,1526.8 1123.4,1526.8 L1179.4,1526.8 C1184.4,1526.8 1187.4,1524.8 1186.4,1519.8" stroke-width="2.07" fill="none"/>
<path d="M1289.5,1497.8 C1297.5,1497.8 1297.5,1501.8 1297.5,1509.8 L1297.5,1520.8 C1297.5,1525.8 1294.5,1526.8 1289.5,1526.8 L1233.5,1526.8 C1228.5,1526.8 1225.5,1524.8 1226.5,1519.8" stroke-width="2.07" fill="none"/>
<rect x="1129.15" y="1475.15" width="153.7" height="36.7" stroke-width="2.3" fill="#fff"/>
<line x1="1180.2" y1="1474" x2="1180.2" y2="1513" stroke-width="2.3"/>
<line x1="1232" y1="1474" x2="1232" y2="1513" stroke-width="2.3"/>
<text x="1133.12" y="1500.8" font-size="21.53" font-family='"Liberation Mono", monospace' fill="#000" stroke="#fff" stroke-width="0.55" textLength="40.56" lengthAdjust="spacing">L/O</text>
<text x="1185.12" y="1500.8" font-size="21.53" font-family='"Liberation Mono", monospace' fill="#000" stroke="#fff" stroke-width="0.55" textLength="40.23" lengthAdjust="spacing">L/B</text>
<line x1="1258" y1="1489.3" x2="1258" y2="1499.7" stroke-width="1.44"/>
<line x1="1253.5" y1="1491.9" x2="1262.5" y2="1497.1" stroke-width="1.44"/>
<line x1="1262.5" y1="1491.9" x2="1253.5" y2="1497.1" stroke-width="1.44"/>
<rect x="1151.42" y="1461.42" width="5.36" height="12.16" stroke-width="1.84" fill="none"/>
<rect x="1255.32" y="1461.42" width="5.36" height="12.16" stroke-width="1.84" fill="none"/>
<rect x="1199.77" y="1468.42" width="12.66" height="5.16" stroke-width="1.84" fill="none"/>
<line x1="1200.85" y1="1470.75" x2="1211.35" y2="1470.75" stroke-width="1.38" stroke-dasharray="2 1.5"/>
<text x="865.99" y="1767.2" font-size="40.5" font-family='"Liberation Sans", sans-serif' font-weight="bold" fill="#000" stroke="none" textLength="108.42" lengthAdjust="spacingAndGlyphs">Z-118</text>
</g>
</svg>
</body></html>
